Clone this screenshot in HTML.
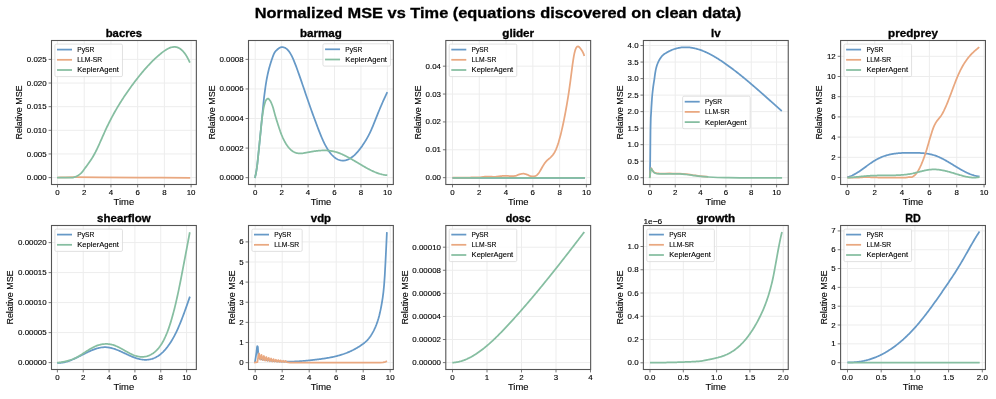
<!DOCTYPE html><html><head><meta charset="utf-8"><title>Normalized MSE vs Time</title><style>html,body{margin:0;padding:0;background:#fff;overflow:hidden}svg{display:block;will-change:transform}text{font-family:"Liberation Sans",sans-serif;stroke:#000;stroke-width:0.12px}text[font-weight=bold]{stroke-width:0.3px}</style></head><body>
<svg width="996" height="399" viewBox="0 0 996 399">
<rect width="996" height="399" fill="#fff"/>
<text x="498.00" y="18.40" font-size="14.66" text-anchor="middle" font-weight="bold" textLength="486.61" lengthAdjust="spacingAndGlyphs">Normalized MSE vs Time (equations discovered on clean data)</text>
<clipPath id="c1"><rect x="51.5" y="40.5" width="144.85" height="144.00"/></clipPath>
<path d="M57.50,40.5 V184.5 M84.22,40.5 V184.5 M110.94,40.5 V184.5 M137.66,40.5 V184.5 M164.38,40.5 V184.5 M191.10,40.5 V184.5 M51.5,177.60 H196.35 M51.5,153.96 H196.35 M51.5,130.32 H196.35 M51.5,106.68 H196.35 M51.5,83.04 H196.35 M51.5,59.40 H196.35" stroke="#ededed" stroke-width="1.0" fill="none"/>
<g clip-path="url(#c1)" fill="none" stroke-width="1.75" stroke-linejoin="round" stroke-linecap="butt">
<path d="M57.60,177.50 C60.50,177.45 67.93,177.22 75.00,177.20 C82.07,177.18 89.17,177.33 100.00,177.40 C110.83,177.47 124.97,177.53 140.00,177.60 C155.03,177.67 181.83,177.77 190.20,177.80" stroke="#e9a880"/>
<path d="M57.00,177.70 L57.30,177.70 L57.60,177.70 L57.89,177.70 L58.19,177.70 L58.49,177.70 L58.79,177.70 L59.08,177.70 L59.38,177.70 L59.68,177.70 L59.98,177.70 L60.27,177.70 L60.57,177.70 L60.87,177.70 L61.17,177.70 L61.46,177.70 L61.76,177.70 L62.06,177.70 L62.36,177.70 L62.66,177.70 L62.95,177.70 L63.25,177.70 L63.55,177.70 L63.85,177.70 L64.14,177.70 L64.44,177.70 L64.74,177.70 L65.04,177.70 L65.33,177.70 L65.63,177.70 L65.93,177.70 L66.23,177.70 L66.52,177.70 L66.82,177.70 L67.12,177.70 L67.42,177.70 L67.72,177.70 L68.01,177.70 L68.31,177.70 L68.61,177.70 L68.91,177.70 L69.20,177.70 L69.50,177.70 L69.80,177.70 L70.10,177.70 L70.39,177.70 L70.69,177.70 L70.99,177.70 L71.29,177.70 L71.58,177.70 L71.88,177.70 L72.18,177.70 L72.48,177.68 L72.78,177.63 L73.07,177.57 L73.37,177.49 L73.67,177.39 L73.97,177.29 L74.26,177.19 L74.56,177.08 L74.86,176.98 L75.16,176.87 L75.45,176.76 L75.75,176.64 L76.05,176.50 L76.35,176.37 L76.64,176.22 L76.94,176.07 L77.24,175.91 L77.54,175.74 L77.84,175.57 L78.13,175.39 L78.43,175.21 L78.73,175.02 L79.03,174.82 L79.32,174.60 L79.62,174.38 L79.92,174.14 L80.22,173.89 L80.51,173.63 L80.81,173.37 L81.11,173.09 L81.41,172.80 L81.70,172.51 L82.00,172.21 L82.30,171.90 L83.00,170.92 L83.70,169.96 L84.40,169.02 L85.09,168.08 L85.79,167.14 L86.49,166.20 L87.19,165.26 L87.89,164.30 L88.59,163.33 L89.29,162.35 L89.99,161.34 L90.68,160.30 L91.38,159.23 L92.08,158.12 L92.78,156.97 L93.48,155.78 L94.18,154.53 L94.88,153.23 L95.58,151.89 L96.27,150.49 L96.97,149.06 L97.67,147.58 L98.37,146.08 L99.07,144.55 L99.77,143.00 L100.47,141.44 L101.16,139.86 L101.86,138.28 L102.56,136.70 L103.26,135.12 L103.96,133.55 L104.66,132.00 L105.36,130.46 L106.06,128.95 L106.75,127.46 L107.45,126.00 L108.15,124.55 L108.85,123.14 L109.55,121.74 L110.25,120.36 L110.95,119.01 L111.65,117.67 L112.34,116.36 L113.04,115.07 L113.74,113.79 L114.44,112.53 L115.14,111.29 L115.84,110.07 L116.54,108.87 L117.24,107.68 L117.93,106.50 L118.63,105.35 L119.33,104.20 L120.03,103.08 L120.73,101.96 L121.43,100.86 L122.13,99.77 L122.82,98.69 L123.52,97.63 L124.22,96.58 L124.92,95.53 L125.62,94.50 L126.32,93.48 L127.02,92.46 L127.72,91.46 L128.41,90.46 L129.11,89.47 L129.81,88.49 L130.51,87.52 L131.21,86.55 L131.91,85.59 L132.61,84.64 L133.31,83.69 L134.00,82.75 L134.70,81.82 L135.40,80.90 L136.10,79.99 L136.80,79.09 L137.50,78.19 L138.20,77.30 L138.89,76.42 L139.59,75.55 L140.29,74.68 L140.99,73.83 L141.69,72.98 L142.39,72.15 L143.09,71.32 L143.79,70.50 L144.48,69.69 L145.18,68.89 L145.88,68.10 L146.58,67.32 L147.28,66.55 L147.98,65.78 L148.68,65.03 L149.38,64.29 L150.07,63.55 L150.77,62.83 L151.47,62.12 L152.17,61.41 L152.87,60.72 L153.57,60.04 L154.27,59.36 L154.96,58.70 L155.66,58.05 L156.36,57.41 L157.06,56.78 L157.76,56.16 L158.46,55.55 L159.16,54.96 L159.86,54.37 L160.55,53.80 L161.25,53.23 L161.95,52.68 L162.65,52.14 L163.35,51.62 L164.05,51.12 L164.75,50.63 L165.45,50.16 L166.14,49.72 L166.84,49.30 L167.54,48.91 L168.24,48.55 L168.94,48.22 L169.64,47.93 L170.34,47.66 L171.04,47.44 L171.73,47.25 L172.43,47.11 L173.13,47.01 L173.83,46.95 L174.53,46.94 L175.23,46.98 L175.93,47.07 L176.62,47.21 L177.32,47.41 L178.02,47.66 L178.72,47.98 L179.42,48.35 L180.12,48.79 L180.82,49.29 L181.52,49.86 L182.21,50.49 L182.91,51.20 L183.61,51.98 L184.31,52.84 L185.01,53.77 L185.71,54.78 L186.41,55.87 L187.11,57.04 L187.80,58.30 L188.50,59.64 L189.20,61.08 L189.90,62.60" stroke="#86bea1"/>
</g>
<rect x="54.90" y="44.10" width="67.58" height="32.5" rx="1.4" fill="#fff" fill-opacity="0.8" stroke="#d9d9d9" stroke-width="0.8"/>
<path d="M57.00,49.60 h15.0" stroke="#6699c7" stroke-width="1.75"/>
<text x="77.30" y="52.00" font-size="7.33" textLength="17.02" lengthAdjust="spacingAndGlyphs">PySR</text>
<path d="M57.00,59.80 h15.0" stroke="#e9a880" stroke-width="1.75"/>
<text x="77.30" y="62.20" font-size="7.33" textLength="24.73" lengthAdjust="spacingAndGlyphs">LLM-SR</text>
<path d="M57.00,70.00 h15.0" stroke="#86bea1" stroke-width="1.75"/>
<text x="77.30" y="72.40" font-size="7.33" textLength="41.61" lengthAdjust="spacingAndGlyphs">KeplerAgent</text>
<rect x="51.5" y="40.5" width="144.85" height="144.00" fill="none" stroke="#555555" stroke-width="1.1"/>
<path d="M57.50,184.5 v2.9 M84.22,184.5 v2.9 M110.94,184.5 v2.9 M137.66,184.5 v2.9 M164.38,184.5 v2.9 M191.10,184.5 v2.9 M51.5,177.60 h-2.9 M51.5,153.96 h-2.9 M51.5,130.32 h-2.9 M51.5,106.68 h-2.9 M51.5,83.04 h-2.9 M51.5,59.40 h-2.9" stroke="#555" stroke-width="0.8"/>
<text x="57.50" y="194.50" font-size="7.22" text-anchor="middle" textLength="4.40" lengthAdjust="spacingAndGlyphs">0</text>
<text x="84.22" y="194.50" font-size="7.22" text-anchor="middle" textLength="4.40" lengthAdjust="spacingAndGlyphs">2</text>
<text x="110.94" y="194.50" font-size="7.22" text-anchor="middle" textLength="4.40" lengthAdjust="spacingAndGlyphs">4</text>
<text x="137.66" y="194.50" font-size="7.22" text-anchor="middle" textLength="4.40" lengthAdjust="spacingAndGlyphs">6</text>
<text x="164.38" y="194.50" font-size="7.22" text-anchor="middle" textLength="4.40" lengthAdjust="spacingAndGlyphs">8</text>
<text x="191.10" y="194.50" font-size="7.22" text-anchor="middle" textLength="8.80" lengthAdjust="spacingAndGlyphs">10</text>
<text x="46.66" y="180.15" font-size="7.22" text-anchor="end" textLength="19.80" lengthAdjust="spacingAndGlyphs">0.000</text>
<text x="46.66" y="156.51" font-size="7.22" text-anchor="end" textLength="19.80" lengthAdjust="spacingAndGlyphs">0.005</text>
<text x="46.66" y="132.87" font-size="7.22" text-anchor="end" textLength="19.80" lengthAdjust="spacingAndGlyphs">0.010</text>
<text x="46.66" y="109.23" font-size="7.22" text-anchor="end" textLength="19.80" lengthAdjust="spacingAndGlyphs">0.015</text>
<text x="46.66" y="85.59" font-size="7.22" text-anchor="end" textLength="19.80" lengthAdjust="spacingAndGlyphs">0.020</text>
<text x="46.66" y="61.95" font-size="7.22" text-anchor="end" textLength="19.80" lengthAdjust="spacingAndGlyphs">0.025</text>
<text x="123.92" y="204.90" font-size="8.8" text-anchor="middle" textLength="20.57" lengthAdjust="spacingAndGlyphs">Time</text>
<text x="22.13" y="112.50" font-size="8.8" text-anchor="middle" textLength="54.16" lengthAdjust="spacingAndGlyphs" transform="rotate(-90 22.13 112.50)">Relative MSE</text>
<text x="123.92" y="36.70" font-size="10.26" text-anchor="middle" font-weight="bold" textLength="36.31" lengthAdjust="spacingAndGlyphs">bacres</text>
<clipPath id="c2"><rect x="248.5" y="40.5" width="144.85" height="144.00"/></clipPath>
<path d="M255.20,40.5 V184.5 M281.64,40.5 V184.5 M308.08,40.5 V184.5 M334.52,40.5 V184.5 M360.96,40.5 V184.5 M387.40,40.5 V184.5 M248.5,177.65 H393.35 M248.5,148.08 H393.35 M248.5,118.51 H393.35 M248.5,88.94 H393.35 M248.5,59.37 H393.35" stroke="#ededed" stroke-width="1.0" fill="none"/>
<g clip-path="url(#c2)" fill="none" stroke-width="1.75" stroke-linejoin="round" stroke-linecap="butt">
<path d="M254.80,177.90 L255.10,176.99 L255.39,175.86 L255.69,174.53 L255.99,173.03 L256.28,171.39 L256.58,169.63 L256.88,167.73 L257.17,165.45 L257.47,162.87 L257.77,160.09 L258.06,157.19 L258.36,154.28 L258.66,151.46 L258.95,148.62 L259.25,145.72 L259.55,142.77 L259.84,139.79 L260.14,136.80 L260.44,133.82 L260.73,130.84 L261.03,127.84 L261.33,124.82 L261.62,121.80 L261.92,118.79 L262.22,115.81 L262.52,112.83 L262.81,109.77 L263.11,106.70 L263.41,103.68 L263.70,100.79 L264.00,98.09 L264.30,95.63 L264.59,93.30 L264.89,91.03 L265.19,88.85 L265.48,86.75 L265.78,84.74 L266.08,82.83 L266.37,81.03 L266.67,79.34 L266.97,77.77 L267.26,76.30 L267.56,74.88 L267.86,73.52 L268.15,72.21 L268.45,70.95 L268.75,69.74 L269.04,68.58 L269.34,67.47 L269.64,66.40 L269.93,65.37 L270.23,64.39 L270.53,63.44 L270.82,62.53 L271.12,61.63 L271.42,60.74 L271.71,59.85 L272.01,58.97 L272.31,58.10 L272.60,57.26 L272.90,56.45 L273.20,55.67 L273.49,54.92 L273.79,54.22 L274.09,53.57 L274.38,52.97 L274.68,52.43 L274.98,51.96 L275.28,51.56 L275.57,51.23 L275.87,50.92 L276.17,50.62 L276.46,50.33 L276.76,50.04 L277.06,49.76 L277.35,49.50 L277.65,49.24 L277.95,48.99 L278.24,48.75 L278.54,48.53 L278.84,48.32 L279.13,48.12 L279.43,47.94 L279.73,47.77 L280.02,47.62 L280.32,47.49 L280.62,47.37 L280.91,47.28 L281.21,47.20 L281.51,47.15 L281.80,47.11 L282.10,47.10 L282.80,47.15 L283.49,47.27 L284.19,47.47 L284.89,47.76 L285.58,48.14 L286.28,48.61 L286.98,49.18 L287.67,49.85 L288.37,50.63 L289.07,51.51 L289.76,52.51 L290.46,53.63 L291.16,54.86 L291.85,56.21 L292.55,57.66 L293.25,59.21 L293.94,60.84 L294.64,62.55 L295.34,64.33 L296.03,66.16 L296.73,68.05 L297.43,69.97 L298.12,71.92 L298.82,73.89 L299.52,75.87 L300.21,77.87 L300.91,79.89 L301.61,81.91 L302.30,83.94 L303.00,85.98 L303.70,88.02 L304.39,90.07 L305.09,92.12 L305.79,94.16 L306.48,96.20 L307.18,98.24 L307.88,100.27 L308.57,102.29 L309.27,104.29 L309.97,106.29 L310.66,108.27 L311.36,110.23 L312.06,112.17 L312.75,114.09 L313.45,116.00 L314.15,117.90 L314.84,119.78 L315.54,121.66 L316.24,123.53 L316.93,125.39 L317.63,127.25 L318.33,129.08 L319.02,130.90 L319.72,132.68 L320.42,134.43 L321.11,136.13 L321.81,137.77 L322.51,139.36 L323.20,140.90 L323.90,142.37 L324.60,143.79 L325.29,145.14 L325.99,146.43 L326.69,147.66 L327.38,148.82 L328.08,149.91 L328.78,150.95 L329.47,151.92 L330.17,152.84 L330.87,153.70 L331.56,154.50 L332.26,155.25 L332.96,155.95 L333.65,156.59 L334.35,157.19 L335.05,157.73 L335.75,158.23 L336.44,158.68 L337.14,159.08 L337.84,159.43 L338.53,159.74 L339.23,160.00 L339.93,160.21 L340.62,160.38 L341.32,160.50 L342.02,160.58 L342.71,160.62 L343.41,160.61 L344.11,160.56 L344.80,160.47 L345.50,160.34 L346.20,160.16 L346.89,159.95 L347.59,159.69 L348.29,159.40 L348.98,159.06 L349.68,158.69 L350.38,158.28 L351.07,157.83 L351.77,157.34 L352.47,156.81 L353.16,156.25 L353.86,155.66 L354.56,155.03 L355.25,154.36 L355.95,153.66 L356.65,152.92 L357.34,152.16 L358.04,151.35 L358.74,150.52 L359.43,149.66 L360.13,148.76 L360.83,147.83 L361.52,146.87 L362.22,145.89 L362.92,144.87 L363.61,143.82 L364.31,142.75 L365.01,141.64 L365.70,140.51 L366.40,139.33 L367.10,138.12 L367.79,136.87 L368.49,135.56 L369.19,134.21 L369.88,132.80 L370.58,131.34 L371.28,129.81 L371.97,128.22 L372.67,126.58 L373.37,124.90 L374.06,123.18 L374.76,121.43 L375.46,119.68 L376.15,117.91 L376.85,116.15 L377.55,114.41 L378.24,112.68 L378.94,110.98 L379.64,109.29 L380.33,107.63 L381.03,105.99 L381.73,104.37 L382.42,102.76 L383.12,101.18 L383.82,99.61 L384.51,98.06 L385.21,96.53 L385.91,95.01 L386.60,93.51 L387.30,92.03" stroke="#6699c7"/>
<path d="M254.80,177.90 L255.10,176.98 L255.40,175.84 L255.70,174.50 L256.00,172.98 L256.29,171.33 L256.59,169.56 L256.89,167.62 L257.19,165.31 L257.49,162.70 L257.79,159.89 L258.09,156.97 L258.39,154.04 L258.68,151.20 L258.98,148.32 L259.28,145.35 L259.58,142.35 L259.88,139.33 L260.18,136.34 L260.48,133.42 L260.78,130.47 L261.08,127.45 L261.37,124.44 L261.67,121.54 L261.97,118.87 L262.27,116.51 L262.57,114.43 L262.87,112.46 L263.17,110.62 L263.47,108.93 L263.76,107.40 L264.06,106.05 L264.36,104.88 L264.66,103.76 L264.96,102.72 L265.26,101.79 L265.56,101.01 L265.86,100.41 L266.16,100.00 L266.45,99.65 L266.75,99.32 L267.05,99.04 L267.35,98.82 L267.65,98.67 L267.95,98.60 L268.25,98.64 L268.55,98.80 L268.84,99.05 L269.14,99.38 L269.44,99.76 L269.74,100.18 L270.04,100.62 L270.34,101.06 L270.64,101.54 L270.94,102.12 L271.24,102.76 L271.53,103.47 L271.83,104.22 L272.13,105.00 L272.43,105.81 L272.73,106.65 L273.03,107.59 L273.33,108.59 L273.63,109.65 L273.92,110.75 L274.22,111.87 L274.52,112.99 L274.82,114.11 L275.12,115.19 L275.42,116.23 L275.72,117.22 L276.02,118.20 L276.32,119.18 L276.61,120.15 L276.91,121.12 L277.21,122.07 L277.51,123.02 L277.81,123.97 L278.11,124.90 L278.41,125.83 L278.71,126.75 L279.00,127.66 L279.30,128.56 L279.60,129.45 L279.90,130.33 L280.20,131.20 L280.90,133.08 L281.59,134.85 L282.29,136.51 L282.98,138.09 L283.68,139.56 L284.37,140.94 L285.07,142.23 L285.76,143.44 L286.46,144.55 L287.15,145.59 L287.85,146.55 L288.55,147.43 L289.24,148.24 L289.94,148.97 L290.63,149.64 L291.33,150.24 L292.02,150.79 L292.72,151.27 L293.41,151.69 L294.11,152.06 L294.80,152.38 L295.50,152.64 L296.20,152.87 L296.89,153.05 L297.59,153.19 L298.28,153.29 L298.98,153.35 L299.67,153.39 L300.37,153.39 L301.06,153.37 L301.76,153.33 L302.45,153.26 L303.15,153.18 L303.85,153.08 L304.54,152.96 L305.24,152.84 L305.93,152.71 L306.63,152.58 L307.32,152.44 L308.02,152.31 L308.71,152.17 L309.41,152.04 L310.10,151.92 L310.80,151.79 L311.50,151.67 L312.19,151.55 L312.89,151.44 L313.58,151.33 L314.28,151.23 L314.97,151.13 L315.67,151.03 L316.36,150.94 L317.06,150.86 L317.75,150.78 L318.45,150.71 L319.15,150.65 L319.84,150.59 L320.54,150.54 L321.23,150.50 L321.93,150.47 L322.62,150.45 L323.32,150.43 L324.01,150.42 L324.71,150.43 L325.40,150.44 L326.10,150.46 L326.80,150.49 L327.49,150.54 L328.19,150.59 L328.88,150.66 L329.58,150.73 L330.27,150.82 L330.97,150.92 L331.66,151.04 L332.36,151.16 L333.05,151.30 L333.75,151.46 L334.45,151.62 L335.14,151.81 L335.84,152.00 L336.53,152.21 L337.23,152.43 L337.92,152.66 L338.62,152.91 L339.31,153.17 L340.01,153.44 L340.70,153.72 L341.40,154.01 L342.10,154.31 L342.79,154.62 L343.49,154.94 L344.18,155.27 L344.88,155.60 L345.57,155.95 L346.27,156.30 L346.96,156.66 L347.66,157.03 L348.35,157.40 L349.05,157.78 L349.75,158.16 L350.44,158.55 L351.14,158.94 L351.83,159.34 L352.53,159.74 L353.22,160.15 L353.92,160.55 L354.61,160.96 L355.31,161.37 L356.00,161.79 L356.70,162.20 L357.40,162.62 L358.09,163.03 L358.79,163.45 L359.48,163.86 L360.18,164.28 L360.87,164.69 L361.57,165.10 L362.26,165.51 L362.96,165.92 L363.65,166.32 L364.35,166.72 L365.05,167.12 L365.74,167.51 L366.44,167.90 L367.13,168.28 L367.83,168.65 L368.52,169.02 L369.22,169.39 L369.91,169.74 L370.61,170.09 L371.30,170.44 L372.00,170.77 L372.70,171.10 L373.39,171.41 L374.09,171.72 L374.78,172.02 L375.48,172.30 L376.17,172.58 L376.87,172.85 L377.56,173.10 L378.26,173.34 L378.95,173.57 L379.65,173.79 L380.35,173.99 L381.04,174.18 L381.74,174.36 L382.43,174.52 L383.13,174.67 L383.82,174.80 L384.52,174.92 L385.21,175.02 L385.91,175.10 L386.60,175.17 L387.30,175.22" stroke="#86bea1"/>
</g>
<rect x="322.95" y="43.80" width="67.58" height="22.3" rx="1.4" fill="#fff" fill-opacity="0.8" stroke="#d9d9d9" stroke-width="0.8"/>
<path d="M325.05,49.30 h15.0" stroke="#6699c7" stroke-width="1.75"/>
<text x="345.35" y="51.70" font-size="7.33" textLength="17.02" lengthAdjust="spacingAndGlyphs">PySR</text>
<path d="M325.05,59.50 h15.0" stroke="#86bea1" stroke-width="1.75"/>
<text x="345.35" y="61.90" font-size="7.33" textLength="41.61" lengthAdjust="spacingAndGlyphs">KeplerAgent</text>
<rect x="248.5" y="40.5" width="144.85" height="144.00" fill="none" stroke="#555555" stroke-width="1.1"/>
<path d="M255.20,184.5 v2.9 M281.64,184.5 v2.9 M308.08,184.5 v2.9 M334.52,184.5 v2.9 M360.96,184.5 v2.9 M387.40,184.5 v2.9 M248.5,177.65 h-2.9 M248.5,148.08 h-2.9 M248.5,118.51 h-2.9 M248.5,88.94 h-2.9 M248.5,59.37 h-2.9" stroke="#555" stroke-width="0.8"/>
<text x="255.20" y="194.50" font-size="7.22" text-anchor="middle" textLength="4.40" lengthAdjust="spacingAndGlyphs">0</text>
<text x="281.64" y="194.50" font-size="7.22" text-anchor="middle" textLength="4.40" lengthAdjust="spacingAndGlyphs">2</text>
<text x="308.08" y="194.50" font-size="7.22" text-anchor="middle" textLength="4.40" lengthAdjust="spacingAndGlyphs">4</text>
<text x="334.52" y="194.50" font-size="7.22" text-anchor="middle" textLength="4.40" lengthAdjust="spacingAndGlyphs">6</text>
<text x="360.96" y="194.50" font-size="7.22" text-anchor="middle" textLength="4.40" lengthAdjust="spacingAndGlyphs">8</text>
<text x="387.40" y="194.50" font-size="7.22" text-anchor="middle" textLength="8.80" lengthAdjust="spacingAndGlyphs">10</text>
<text x="243.66" y="180.20" font-size="7.22" text-anchor="end" textLength="24.20" lengthAdjust="spacingAndGlyphs">0.0000</text>
<text x="243.66" y="150.63" font-size="7.22" text-anchor="end" textLength="24.20" lengthAdjust="spacingAndGlyphs">0.0002</text>
<text x="243.66" y="121.06" font-size="7.22" text-anchor="end" textLength="24.20" lengthAdjust="spacingAndGlyphs">0.0004</text>
<text x="243.66" y="91.49" font-size="7.22" text-anchor="end" textLength="24.20" lengthAdjust="spacingAndGlyphs">0.0006</text>
<text x="243.66" y="61.92" font-size="7.22" text-anchor="end" textLength="24.20" lengthAdjust="spacingAndGlyphs">0.0008</text>
<text x="320.93" y="204.90" font-size="8.8" text-anchor="middle" textLength="20.57" lengthAdjust="spacingAndGlyphs">Time</text>
<text x="214.73" y="112.50" font-size="8.8" text-anchor="middle" textLength="54.16" lengthAdjust="spacingAndGlyphs" transform="rotate(-90 214.73 112.50)">Relative MSE</text>
<text x="320.93" y="36.70" font-size="10.26" text-anchor="middle" font-weight="bold" textLength="41.80" lengthAdjust="spacingAndGlyphs">barmag</text>
<clipPath id="c3"><rect x="445.8" y="40.5" width="144.85" height="144.00"/></clipPath>
<path d="M452.50,40.5 V184.5 M479.28,40.5 V184.5 M506.06,40.5 V184.5 M532.84,40.5 V184.5 M559.62,40.5 V184.5 M586.40,40.5 V184.5 M445.8,177.65 H590.65 M445.8,149.78 H590.65 M445.8,121.91 H590.65 M445.8,94.04 H590.65 M445.8,66.17 H590.65" stroke="#ededed" stroke-width="1.0" fill="none"/>
<g clip-path="url(#c3)" fill="none" stroke-width="1.75" stroke-linejoin="round" stroke-linecap="butt">
<path d="M452.50,177.95 L585.00,177.95" stroke="#6699c7"/>
<path d="M452.50,177.60 L452.80,177.60 L453.10,177.60 L453.40,177.60 L453.70,177.60 L453.99,177.60 L454.29,177.60 L454.59,177.60 L454.89,177.60 L455.19,177.60 L455.49,177.60 L455.79,177.60 L456.09,177.59 L456.39,177.59 L456.69,177.59 L456.98,177.59 L457.28,177.59 L457.58,177.59 L457.88,177.59 L458.18,177.59 L458.48,177.59 L458.78,177.58 L459.08,177.58 L459.38,177.58 L459.67,177.58 L459.97,177.58 L460.27,177.58 L460.57,177.57 L460.87,177.57 L461.17,177.57 L461.47,177.57 L461.77,177.57 L462.07,177.57 L462.36,177.56 L462.66,177.56 L462.96,177.56 L463.26,177.56 L463.56,177.55 L463.86,177.55 L464.16,177.55 L464.46,177.55 L464.76,177.55 L465.06,177.54 L465.35,177.54 L465.65,177.54 L465.95,177.54 L466.25,177.53 L466.55,177.53 L466.85,177.53 L467.15,177.53 L467.45,177.52 L467.75,177.52 L468.04,177.52 L468.34,177.52 L468.64,177.51 L468.94,177.51 L469.24,177.51 L469.54,177.50 L469.84,177.50 L470.14,177.50 L470.44,177.50 L470.73,177.49 L471.03,177.49 L471.33,177.49 L471.63,177.48 L471.93,177.48 L472.23,177.48 L472.53,177.47 L472.83,177.47 L473.13,177.46 L473.43,177.46 L473.72,177.46 L474.02,177.45 L474.32,177.45 L474.62,177.44 L474.92,177.44 L475.22,177.43 L475.52,177.42 L475.82,177.42 L476.12,177.41 L476.41,177.41 L476.71,177.40 L477.01,177.39 L477.31,177.38 L477.61,177.38 L477.91,177.37 L478.21,177.36 L478.51,177.35 L478.81,177.34 L479.10,177.33 L479.40,177.32 L479.70,177.31 L480.00,177.30 L480.30,177.28 L480.60,177.26 L480.90,177.23 L481.20,177.20 L481.50,177.16 L481.80,177.12 L482.09,177.08 L482.39,177.03 L482.69,176.98 L482.99,176.94 L483.29,176.89 L483.59,176.85 L483.89,176.81 L484.19,176.77 L484.49,176.74 L484.78,176.71 L485.08,176.70 L485.38,176.68 L485.68,176.66 L485.98,176.64 L486.28,176.62 L486.58,176.61 L486.88,176.59 L487.18,176.58 L487.47,176.56 L487.77,176.55 L488.07,176.54 L488.37,176.53 L488.67,176.52 L488.97,176.51 L489.27,176.51 L489.57,176.50 L489.87,176.50 L490.17,176.50 L490.46,176.51 L490.76,176.54 L491.06,176.57 L491.36,176.61 L491.66,176.65 L491.96,176.69 L492.26,176.74 L492.56,176.78 L492.86,176.82 L493.15,176.85 L493.45,176.88 L493.75,176.90 L494.05,176.90 L494.35,176.89 L494.65,176.88 L494.95,176.86 L495.25,176.83 L495.55,176.79 L495.84,176.76 L496.14,176.71 L496.44,176.67 L496.74,176.62 L497.04,176.57 L497.34,176.52 L497.64,176.48 L497.94,176.43 L498.24,176.39 L498.54,176.35 L498.83,176.32 L499.13,176.29 L499.43,176.26 L499.73,176.23 L500.03,176.20 L500.33,176.17 L500.63,176.14 L500.93,176.10 L501.23,176.07 L501.52,176.04 L501.82,176.01 L502.12,175.98 L502.42,175.96 L502.72,175.93 L503.02,175.91 L503.32,175.89 L503.62,175.86 L503.92,175.85 L504.21,175.83 L504.51,175.82 L504.81,175.81 L505.11,175.80 L505.41,175.80 L505.71,175.80 L506.01,175.81 L506.31,175.82 L506.61,175.83 L506.91,175.85 L507.20,175.87 L507.50,175.89 L507.80,175.92 L508.10,175.94 L508.40,175.97 L508.70,176.00 L509.00,176.03 L509.30,176.06 L509.60,176.08 L509.89,176.11 L510.19,176.13 L510.49,176.15 L510.79,176.17 L511.09,176.18 L511.39,176.19 L511.69,176.20 L511.99,176.20 L512.29,176.19 L512.58,176.18 L512.88,176.17 L513.18,176.14 L513.48,176.11 L513.78,176.08 L514.08,176.05 L514.38,176.01 L514.68,175.96 L514.98,175.92 L515.28,175.87 L515.57,175.82 L515.87,175.77 L516.17,175.68 L516.47,175.58 L516.77,175.46 L517.07,175.32 L517.37,175.18 L517.67,175.03 L517.97,174.89 L518.26,174.76 L518.56,174.64 L518.86,174.54 L519.16,174.46 L519.46,174.38 L519.76,174.30 L520.06,174.22 L520.36,174.15 L520.66,174.07 L520.95,174.01 L521.25,173.94 L521.55,173.88 L521.85,173.83 L522.15,173.78 L522.45,173.75 L522.75,173.72 L523.05,173.70 L523.35,173.70 L523.64,173.71 L523.94,173.74 L524.24,173.78 L524.54,173.84 L524.84,173.91 L525.14,173.99 L525.44,174.07 L525.74,174.16 L526.04,174.26 L526.34,174.35 L526.63,174.45 L526.93,174.55 L527.23,174.64 L527.53,174.76 L527.83,174.90 L528.13,175.05 L528.43,175.21 L528.73,175.37 L529.03,175.53 L529.32,175.68 L529.62,175.82 L529.92,175.94 L530.22,176.04 L530.52,176.10 L530.82,176.15 L531.12,176.20 L531.42,176.25 L531.72,176.29 L532.02,176.32 L532.31,176.35 L532.61,176.38 L532.91,176.39 L533.21,176.40 L533.51,176.39 L533.81,176.37 L534.11,176.32 L534.41,176.26 L534.71,176.18 L535.00,176.09 L535.30,175.98 L535.60,175.87 L535.90,175.74 L536.20,175.60 L536.90,175.15 L537.59,174.49 L538.29,173.67 L538.99,172.71 L539.69,171.64 L540.38,170.48 L541.08,169.27 L541.78,168.03 L542.47,166.79 L543.17,165.59 L543.87,164.44 L544.57,163.38 L545.26,162.44 L545.96,161.60 L546.66,160.86 L547.35,160.19 L548.05,159.56 L548.75,158.97 L549.44,158.39 L550.14,157.79 L550.84,157.16 L551.54,156.47 L552.23,155.71 L552.93,154.85 L553.63,153.88 L554.32,152.76 L555.02,151.49 L555.72,150.04 L556.42,148.41 L557.11,146.60 L557.81,144.61 L558.51,142.44 L559.20,140.10 L559.90,137.60 L560.60,134.94 L561.30,132.12 L561.99,129.14 L562.69,126.02 L563.39,122.74 L564.08,119.33 L564.78,115.77 L565.48,112.08 L566.18,108.26 L566.87,104.30 L567.57,100.17 L568.27,95.84 L568.96,91.28 L569.66,86.46 L570.36,81.35 L571.06,75.97 L571.75,70.52 L572.45,65.23 L573.15,60.34 L573.84,56.08 L574.54,52.66 L575.24,50.09 L575.93,48.27 L576.63,47.11 L577.33,46.53 L578.03,46.42 L578.72,46.71 L579.42,47.29 L580.12,48.09 L580.81,49.00 L581.51,49.96 L582.21,51.02 L582.91,52.30 L583.60,53.90 L584.30,55.92" stroke="#e9a880"/>
<path d="M452.50,177.75 L585.00,177.75" stroke="#86bea1"/>
</g>
<rect x="449.20" y="44.10" width="67.58" height="32.5" rx="1.4" fill="#fff" fill-opacity="0.8" stroke="#d9d9d9" stroke-width="0.8"/>
<path d="M451.30,49.60 h15.0" stroke="#6699c7" stroke-width="1.75"/>
<text x="471.60" y="52.00" font-size="7.33" textLength="17.02" lengthAdjust="spacingAndGlyphs">PySR</text>
<path d="M451.30,59.80 h15.0" stroke="#e9a880" stroke-width="1.75"/>
<text x="471.60" y="62.20" font-size="7.33" textLength="24.73" lengthAdjust="spacingAndGlyphs">LLM-SR</text>
<path d="M451.30,70.00 h15.0" stroke="#86bea1" stroke-width="1.75"/>
<text x="471.60" y="72.40" font-size="7.33" textLength="41.61" lengthAdjust="spacingAndGlyphs">KeplerAgent</text>
<rect x="445.8" y="40.5" width="144.85" height="144.00" fill="none" stroke="#555555" stroke-width="1.1"/>
<path d="M452.50,184.5 v2.9 M479.28,184.5 v2.9 M506.06,184.5 v2.9 M532.84,184.5 v2.9 M559.62,184.5 v2.9 M586.40,184.5 v2.9 M445.8,177.65 h-2.9 M445.8,149.78 h-2.9 M445.8,121.91 h-2.9 M445.8,94.04 h-2.9 M445.8,66.17 h-2.9" stroke="#555" stroke-width="0.8"/>
<text x="452.50" y="194.50" font-size="7.22" text-anchor="middle" textLength="4.40" lengthAdjust="spacingAndGlyphs">0</text>
<text x="479.28" y="194.50" font-size="7.22" text-anchor="middle" textLength="4.40" lengthAdjust="spacingAndGlyphs">2</text>
<text x="506.06" y="194.50" font-size="7.22" text-anchor="middle" textLength="4.40" lengthAdjust="spacingAndGlyphs">4</text>
<text x="532.84" y="194.50" font-size="7.22" text-anchor="middle" textLength="4.40" lengthAdjust="spacingAndGlyphs">6</text>
<text x="559.62" y="194.50" font-size="7.22" text-anchor="middle" textLength="4.40" lengthAdjust="spacingAndGlyphs">8</text>
<text x="586.40" y="194.50" font-size="7.22" text-anchor="middle" textLength="8.80" lengthAdjust="spacingAndGlyphs">10</text>
<text x="440.96" y="180.20" font-size="7.22" text-anchor="end" textLength="15.40" lengthAdjust="spacingAndGlyphs">0.00</text>
<text x="440.96" y="152.33" font-size="7.22" text-anchor="end" textLength="15.40" lengthAdjust="spacingAndGlyphs">0.01</text>
<text x="440.96" y="124.46" font-size="7.22" text-anchor="end" textLength="15.40" lengthAdjust="spacingAndGlyphs">0.02</text>
<text x="440.96" y="96.59" font-size="7.22" text-anchor="end" textLength="15.40" lengthAdjust="spacingAndGlyphs">0.03</text>
<text x="440.96" y="68.72" font-size="7.22" text-anchor="end" textLength="15.40" lengthAdjust="spacingAndGlyphs">0.04</text>
<text x="518.23" y="204.90" font-size="8.8" text-anchor="middle" textLength="20.57" lengthAdjust="spacingAndGlyphs">Time</text>
<text x="420.83" y="112.50" font-size="8.8" text-anchor="middle" textLength="54.16" lengthAdjust="spacingAndGlyphs" transform="rotate(-90 420.83 112.50)">Relative MSE</text>
<text x="518.23" y="36.70" font-size="10.26" text-anchor="middle" font-weight="bold" textLength="31.85" lengthAdjust="spacingAndGlyphs">glider</text>
<clipPath id="c4"><rect x="643.4" y="40.5" width="144.85" height="144.00"/></clipPath>
<path d="M649.90,40.5 V184.5 M675.24,40.5 V184.5 M700.58,40.5 V184.5 M725.92,40.5 V184.5 M751.26,40.5 V184.5 M776.60,40.5 V184.5 M643.4,177.70 H788.25 M643.4,161.18 H788.25 M643.4,144.66 H788.25 M643.4,128.14 H788.25 M643.4,111.62 H788.25 M643.4,95.10 H788.25 M643.4,78.58 H788.25 M643.4,62.06 H788.25 M643.4,45.54 H788.25" stroke="#ededed" stroke-width="1.0" fill="none"/>
<g clip-path="url(#c4)" fill="none" stroke-width="1.75" stroke-linejoin="round" stroke-linecap="butt">
<path d="M649.90,177.00 L650.20,160.16 L650.50,129.92 L650.79,117.65 L651.09,112.95 L651.39,107.64 L651.69,102.86 L651.98,98.55 L652.28,95.03 L652.58,91.99 L652.88,89.31 L653.18,86.94 L653.47,84.84 L653.77,82.91 L654.07,81.02 L654.37,79.04 L654.66,76.90 L654.96,74.71 L655.26,72.63 L655.56,70.82 L655.86,69.39 L656.15,68.14 L656.45,67.01 L656.75,66.00 L657.05,65.08 L657.34,64.25 L657.64,63.48 L657.94,62.76 L658.24,62.08 L658.54,61.45 L658.83,60.85 L659.13,60.29 L659.43,59.77 L659.73,59.27 L660.02,58.81 L660.32,58.35 L660.62,57.91 L660.92,57.48 L661.22,57.07 L661.51,56.68 L661.81,56.30 L662.11,55.95 L662.41,55.62 L662.70,55.32 L663.00,55.05 L663.30,54.80 L664.00,54.31 L664.69,53.84 L665.39,53.38 L666.09,52.94 L666.79,52.52 L667.48,52.12 L668.18,51.74 L668.88,51.37 L669.57,51.02 L670.27,50.68 L670.97,50.37 L671.66,50.07 L672.36,49.78 L673.06,49.51 L673.76,49.26 L674.45,49.02 L675.15,48.80 L675.85,48.60 L676.54,48.41 L677.24,48.23 L677.94,48.07 L678.64,47.93 L679.33,47.80 L680.03,47.68 L680.73,47.58 L681.42,47.49 L682.12,47.42 L682.82,47.36 L683.51,47.31 L684.21,47.28 L684.91,47.26 L685.61,47.26 L686.30,47.26 L687.00,47.28 L687.70,47.32 L688.39,47.36 L689.09,47.42 L689.79,47.49 L690.49,47.58 L691.18,47.67 L691.88,47.78 L692.58,47.90 L693.27,48.03 L693.97,48.17 L694.67,48.32 L695.36,48.48 L696.06,48.66 L696.76,48.84 L697.46,49.04 L698.15,49.24 L698.85,49.46 L699.55,49.69 L700.24,49.92 L700.94,50.17 L701.64,50.43 L702.34,50.69 L703.03,50.96 L703.73,51.25 L704.43,51.54 L705.12,51.84 L705.82,52.15 L706.52,52.47 L707.21,52.80 L707.91,53.13 L708.61,53.47 L709.31,53.82 L710.00,54.18 L710.70,54.55 L711.40,54.92 L712.09,55.30 L712.79,55.69 L713.49,56.08 L714.19,56.48 L714.88,56.89 L715.58,57.31 L716.28,57.73 L716.97,58.15 L717.67,58.59 L718.37,59.02 L719.06,59.47 L719.76,59.92 L720.46,60.37 L721.16,60.83 L721.85,61.29 L722.55,61.76 L723.25,62.24 L723.94,62.72 L724.64,63.20 L725.34,63.68 L726.04,64.18 L726.73,64.67 L727.43,65.17 L728.13,65.67 L728.82,66.18 L729.52,66.69 L730.22,67.20 L730.91,67.72 L731.61,68.24 L732.31,68.76 L733.01,69.29 L733.70,69.82 L734.40,70.35 L735.10,70.89 L735.79,71.43 L736.49,71.97 L737.19,72.51 L737.89,73.06 L738.58,73.62 L739.28,74.17 L739.98,74.73 L740.67,75.29 L741.37,75.85 L742.07,76.41 L742.76,76.98 L743.46,77.55 L744.16,78.12 L744.86,78.70 L745.55,79.28 L746.25,79.86 L746.95,80.44 L747.64,81.02 L748.34,81.61 L749.04,82.19 L749.74,82.78 L750.43,83.38 L751.13,83.97 L751.83,84.56 L752.52,85.16 L753.22,85.76 L753.92,86.36 L754.61,86.96 L755.31,87.57 L756.01,88.17 L756.71,88.78 L757.40,89.38 L758.10,89.99 L758.80,90.60 L759.49,91.21 L760.19,91.83 L760.89,92.44 L761.59,93.05 L762.28,93.67 L762.98,94.28 L763.68,94.90 L764.37,95.52 L765.07,96.14 L765.77,96.76 L766.46,97.37 L767.16,97.99 L767.86,98.61 L768.56,99.24 L769.25,99.86 L769.95,100.48 L770.65,101.10 L771.34,101.72 L772.04,102.34 L772.74,102.96 L773.44,103.59 L774.13,104.21 L774.83,104.83 L775.53,105.45 L776.22,106.07 L776.92,106.69 L777.62,107.31 L778.31,107.93 L779.01,108.55 L779.71,109.17 L780.41,109.79 L781.10,110.41 L781.80,111.02" stroke="#6699c7"/>
<path d="M649.70,177.90 C649.82,176.87 650.17,173.30 650.40,171.70 C650.63,170.10 650.80,168.60 651.10,168.30 C651.40,168.00 651.75,169.27 652.20,169.90 C652.65,170.53 653.17,171.55 653.80,172.10 C654.43,172.65 655.08,172.97 656.00,173.20 C656.92,173.43 657.80,173.45 659.30,173.50 C660.80,173.55 662.72,173.50 665.00,173.50 C667.28,173.50 670.50,173.48 673.00,173.50 C675.50,173.52 677.78,173.48 680.00,173.60 C682.22,173.72 684.22,173.97 686.30,174.20 C688.38,174.43 690.15,174.68 692.50,175.00 C694.85,175.32 697.78,175.80 700.40,176.10 C703.02,176.40 706.90,176.68 708.20,176.80" stroke="#e9a880"/>
<path d="M649.70,178.10 C649.82,177.08 650.17,173.58 650.40,172.00 C650.63,170.42 650.80,168.90 651.10,168.60 C651.40,168.30 651.75,169.57 652.20,170.20 C652.65,170.83 653.17,171.85 653.80,172.40 C654.43,172.95 655.08,173.27 656.00,173.50 C656.92,173.73 657.80,173.75 659.30,173.80 C660.80,173.85 662.72,173.80 665.00,173.80 C667.28,173.80 670.50,173.78 673.00,173.80 C675.50,173.82 677.78,173.78 680.00,173.90 C682.22,174.02 684.22,174.27 686.30,174.50 C688.38,174.73 690.15,174.98 692.50,175.30 C694.85,175.62 697.78,176.12 700.40,176.40 C703.02,176.68 705.33,176.82 708.20,177.00 C711.07,177.18 714.63,177.38 717.60,177.50 C720.57,177.62 722.27,177.65 726.00,177.70 C729.73,177.75 730.65,177.77 740.00,177.80 C749.35,177.83 775.08,177.88 782.10,177.90" stroke="#86bea1"/>
</g>
<rect x="682.60" y="96.20" width="67.58" height="32.5" rx="1.4" fill="#fff" fill-opacity="0.8" stroke="#d9d9d9" stroke-width="0.8"/>
<path d="M684.70,101.70 h15.0" stroke="#6699c7" stroke-width="1.75"/>
<text x="705.00" y="104.10" font-size="7.33" textLength="17.02" lengthAdjust="spacingAndGlyphs">PySR</text>
<path d="M684.70,111.90 h15.0" stroke="#e9a880" stroke-width="1.75"/>
<text x="705.00" y="114.30" font-size="7.33" textLength="24.73" lengthAdjust="spacingAndGlyphs">LLM-SR</text>
<path d="M684.70,122.10 h15.0" stroke="#86bea1" stroke-width="1.75"/>
<text x="705.00" y="124.50" font-size="7.33" textLength="41.61" lengthAdjust="spacingAndGlyphs">KeplerAgent</text>
<rect x="643.4" y="40.5" width="144.85" height="144.00" fill="none" stroke="#555555" stroke-width="1.1"/>
<path d="M649.90,184.5 v2.9 M675.24,184.5 v2.9 M700.58,184.5 v2.9 M725.92,184.5 v2.9 M751.26,184.5 v2.9 M776.60,184.5 v2.9 M643.4,177.70 h-2.9 M643.4,161.18 h-2.9 M643.4,144.66 h-2.9 M643.4,128.14 h-2.9 M643.4,111.62 h-2.9 M643.4,95.10 h-2.9 M643.4,78.58 h-2.9 M643.4,62.06 h-2.9 M643.4,45.54 h-2.9" stroke="#555" stroke-width="0.8"/>
<text x="649.90" y="194.50" font-size="7.22" text-anchor="middle" textLength="4.40" lengthAdjust="spacingAndGlyphs">0</text>
<text x="675.24" y="194.50" font-size="7.22" text-anchor="middle" textLength="4.40" lengthAdjust="spacingAndGlyphs">2</text>
<text x="700.58" y="194.50" font-size="7.22" text-anchor="middle" textLength="4.40" lengthAdjust="spacingAndGlyphs">4</text>
<text x="725.92" y="194.50" font-size="7.22" text-anchor="middle" textLength="4.40" lengthAdjust="spacingAndGlyphs">6</text>
<text x="751.26" y="194.50" font-size="7.22" text-anchor="middle" textLength="4.40" lengthAdjust="spacingAndGlyphs">8</text>
<text x="776.60" y="194.50" font-size="7.22" text-anchor="middle" textLength="8.80" lengthAdjust="spacingAndGlyphs">10</text>
<text x="638.56" y="180.25" font-size="7.22" text-anchor="end" textLength="11.00" lengthAdjust="spacingAndGlyphs">0.0</text>
<text x="638.56" y="163.73" font-size="7.22" text-anchor="end" textLength="11.00" lengthAdjust="spacingAndGlyphs">0.5</text>
<text x="638.56" y="147.21" font-size="7.22" text-anchor="end" textLength="11.00" lengthAdjust="spacingAndGlyphs">1.0</text>
<text x="638.56" y="130.69" font-size="7.22" text-anchor="end" textLength="11.00" lengthAdjust="spacingAndGlyphs">1.5</text>
<text x="638.56" y="114.17" font-size="7.22" text-anchor="end" textLength="11.00" lengthAdjust="spacingAndGlyphs">2.0</text>
<text x="638.56" y="97.65" font-size="7.22" text-anchor="end" textLength="11.00" lengthAdjust="spacingAndGlyphs">2.5</text>
<text x="638.56" y="81.13" font-size="7.22" text-anchor="end" textLength="11.00" lengthAdjust="spacingAndGlyphs">3.0</text>
<text x="638.56" y="64.61" font-size="7.22" text-anchor="end" textLength="11.00" lengthAdjust="spacingAndGlyphs">3.5</text>
<text x="638.56" y="48.09" font-size="7.22" text-anchor="end" textLength="11.00" lengthAdjust="spacingAndGlyphs">4.0</text>
<text x="715.83" y="204.90" font-size="8.8" text-anchor="middle" textLength="20.57" lengthAdjust="spacingAndGlyphs">Time</text>
<text x="622.83" y="112.50" font-size="8.8" text-anchor="middle" textLength="54.16" lengthAdjust="spacingAndGlyphs" transform="rotate(-90 622.83 112.50)">Relative MSE</text>
<text x="715.83" y="36.70" font-size="10.26" text-anchor="middle" font-weight="bold" textLength="9.63" lengthAdjust="spacingAndGlyphs">lv</text>
<clipPath id="c5"><rect x="840.6" y="40.5" width="144.85" height="144.00"/></clipPath>
<path d="M847.40,40.5 V184.5 M874.73,40.5 V184.5 M902.06,40.5 V184.5 M929.39,40.5 V184.5 M956.72,40.5 V184.5 M984.05,40.5 V184.5 M840.6,177.50 H985.45 M840.6,157.30 H985.45 M840.6,137.10 H985.45 M840.6,116.90 H985.45 M840.6,96.70 H985.45 M840.6,76.50 H985.45 M840.6,56.30 H985.45" stroke="#ededed" stroke-width="1.0" fill="none"/>
<g clip-path="url(#c5)" fill="none" stroke-width="1.75" stroke-linejoin="round" stroke-linecap="butt">
<path d="M847.30,177.12 L848.00,176.95 L848.70,176.76 L849.40,176.54 L850.10,176.29 L850.80,176.03 L851.50,175.74 L852.20,175.43 L852.90,175.10 L853.60,174.76 L854.29,174.39 L854.99,174.01 L855.69,173.62 L856.39,173.20 L857.09,172.78 L857.79,172.34 L858.49,171.89 L859.19,171.42 L859.89,170.95 L860.59,170.47 L861.29,169.98 L861.99,169.48 L862.69,168.98 L863.39,168.47 L864.09,167.96 L864.79,167.45 L865.49,166.93 L866.19,166.42 L866.89,165.91 L867.58,165.40 L868.28,164.89 L868.98,164.39 L869.68,163.89 L870.38,163.40 L871.08,162.93 L871.78,162.45 L872.48,161.99 L873.18,161.54 L873.88,161.10 L874.58,160.67 L875.28,160.25 L875.98,159.85 L876.68,159.45 L877.38,159.08 L878.08,158.71 L878.78,158.36 L879.48,158.02 L880.18,157.70 L880.87,157.39 L881.57,157.09 L882.27,156.81 L882.97,156.54 L883.67,156.28 L884.37,156.03 L885.07,155.80 L885.77,155.58 L886.47,155.37 L887.17,155.16 L887.87,154.98 L888.57,154.80 L889.27,154.63 L889.97,154.47 L890.67,154.32 L891.37,154.18 L892.07,154.05 L892.77,153.92 L893.47,153.81 L894.16,153.70 L894.86,153.60 L895.56,153.51 L896.26,153.43 L896.96,153.35 L897.66,153.28 L898.36,153.22 L899.06,153.16 L899.76,153.11 L900.46,153.06 L901.16,153.02 L901.86,152.98 L902.56,152.95 L903.26,152.92 L903.96,152.90 L904.66,152.88 L905.36,152.86 L906.06,152.85 L906.76,152.84 L907.45,152.83 L908.15,152.82 L908.85,152.82 L909.55,152.82 L910.25,152.82 L910.95,152.82 L911.65,152.82 L912.35,152.82 L913.05,152.82 L913.75,152.83 L914.45,152.83 L915.15,152.84 L915.85,152.85 L916.55,152.86 L917.25,152.88 L917.95,152.90 L918.65,152.92 L919.35,152.95 L920.04,152.98 L920.74,153.01 L921.44,153.06 L922.14,153.10 L922.84,153.16 L923.54,153.22 L924.24,153.29 L924.94,153.37 L925.64,153.45 L926.34,153.54 L927.04,153.64 L927.74,153.75 L928.44,153.87 L929.14,154.00 L929.84,154.14 L930.54,154.29 L931.24,154.45 L931.94,154.62 L932.64,154.81 L933.33,155.01 L934.03,155.22 L934.73,155.44 L935.43,155.67 L936.13,155.92 L936.83,156.19 L937.53,156.46 L938.23,156.75 L938.93,157.06 L939.63,157.37 L940.33,157.70 L941.03,158.03 L941.73,158.38 L942.43,158.73 L943.13,159.10 L943.83,159.47 L944.53,159.85 L945.23,160.23 L945.93,160.63 L946.62,161.03 L947.32,161.43 L948.02,161.84 L948.72,162.25 L949.42,162.67 L950.12,163.09 L950.82,163.51 L951.52,163.94 L952.22,164.37 L952.92,164.79 L953.62,165.22 L954.32,165.65 L955.02,166.07 L955.72,166.50 L956.42,166.92 L957.12,167.35 L957.82,167.76 L958.52,168.18 L959.22,168.59 L959.91,169.00 L960.61,169.40 L961.31,169.80 L962.01,170.19 L962.71,170.57 L963.41,170.95 L964.11,171.32 L964.81,171.68 L965.51,172.03 L966.21,172.38 L966.91,172.71 L967.61,173.03 L968.31,173.35 L969.01,173.65 L969.71,173.94 L970.41,174.22 L971.11,174.48 L971.81,174.73 L972.51,174.97 L973.20,175.19 L973.90,175.40 L974.60,175.59 L975.30,175.76 L976.00,175.92 L976.70,176.06 L977.40,176.19 L978.10,176.29 L978.80,176.38 L979.50,176.44" stroke="#6699c7"/>
<path d="M847.30,177.60 L847.60,177.60 L847.90,177.60 L848.20,177.60 L848.50,177.60 L848.80,177.60 L849.09,177.60 L849.39,177.60 L849.69,177.60 L849.99,177.60 L850.29,177.60 L850.59,177.60 L850.89,177.60 L851.19,177.60 L851.49,177.60 L851.79,177.60 L852.08,177.60 L852.38,177.60 L852.68,177.60 L852.98,177.60 L853.28,177.60 L853.58,177.60 L853.88,177.60 L854.18,177.60 L854.48,177.60 L854.78,177.60 L855.07,177.60 L855.37,177.60 L855.67,177.60 L855.97,177.60 L856.27,177.60 L856.57,177.60 L856.87,177.60 L857.17,177.60 L857.47,177.60 L857.77,177.60 L858.07,177.59 L858.36,177.58 L858.66,177.57 L858.96,177.55 L859.26,177.54 L859.56,177.52 L859.86,177.49 L860.16,177.47 L860.46,177.45 L860.76,177.42 L861.06,177.39 L861.35,177.37 L861.65,177.34 L861.95,177.31 L862.25,177.29 L862.55,177.26 L862.85,177.24 L863.15,177.21 L863.45,177.19 L863.75,177.17 L864.05,177.15 L864.35,177.14 L864.64,177.12 L864.94,177.11 L865.24,177.10 L865.54,177.10 L865.84,177.10 L866.14,177.10 L866.44,177.10 L866.74,177.11 L867.04,177.12 L867.34,177.12 L867.63,177.13 L867.93,177.14 L868.23,177.15 L868.53,177.16 L868.83,177.17 L869.13,177.19 L869.43,177.20 L869.73,177.21 L870.03,177.23 L870.33,177.24 L870.62,177.26 L870.92,177.27 L871.22,177.29 L871.52,177.30 L871.82,177.31 L872.12,177.33 L872.42,177.34 L872.72,177.35 L873.02,177.37 L873.32,177.38 L873.62,177.39 L873.91,177.40 L874.21,177.41 L874.51,177.41 L874.81,177.42 L875.11,177.43 L875.41,177.44 L875.71,177.45 L876.01,177.46 L876.31,177.47 L876.61,177.48 L876.90,177.48 L877.20,177.49 L877.50,177.50 L877.80,177.51 L878.10,177.52 L878.40,177.52 L878.70,177.53 L879.00,177.54 L879.30,177.55 L879.60,177.55 L879.90,177.56 L880.19,177.57 L880.49,177.57 L880.79,177.58 L881.09,177.58 L881.39,177.59 L881.69,177.59 L881.99,177.60 L882.29,177.60 L882.59,177.60 L882.89,177.61 L883.18,177.61 L883.48,177.61 L883.78,177.62 L884.08,177.62 L884.38,177.62 L884.68,177.63 L884.98,177.63 L885.28,177.63 L885.58,177.64 L885.88,177.64 L886.17,177.64 L886.47,177.64 L886.77,177.65 L887.07,177.65 L887.37,177.65 L887.67,177.66 L887.97,177.66 L888.27,177.66 L888.57,177.66 L888.87,177.67 L889.17,177.67 L889.46,177.67 L889.76,177.67 L890.06,177.67 L890.36,177.68 L890.66,177.68 L890.96,177.68 L891.26,177.68 L891.56,177.68 L891.86,177.69 L892.16,177.69 L892.45,177.69 L892.75,177.69 L893.05,177.69 L893.35,177.69 L893.65,177.69 L893.95,177.70 L894.25,177.70 L894.55,177.70 L894.85,177.70 L895.15,177.70 L895.45,177.70 L895.74,177.70 L896.04,177.70 L896.34,177.70 L896.64,177.70 L896.94,177.70 L897.24,177.70 L897.54,177.70 L897.84,177.70 L898.14,177.70 L898.44,177.70 L898.73,177.69 L899.03,177.69 L899.33,177.69 L899.63,177.69 L899.93,177.68 L900.23,177.68 L900.53,177.68 L900.83,177.68 L901.13,177.67 L901.43,177.67 L901.73,177.66 L902.02,177.66 L902.32,177.65 L902.62,177.65 L902.92,177.64 L903.22,177.64 L903.52,177.63 L903.82,177.63 L904.12,177.62 L904.42,177.61 L904.72,177.61 L905.01,177.60 L905.31,177.59 L905.61,177.57 L905.91,177.55 L906.21,177.52 L906.51,177.49 L906.81,177.45 L907.11,177.41 L907.41,177.36 L907.71,177.31 L908.00,177.26 L908.30,177.21 L908.60,177.16 L908.90,177.11 L909.20,177.05 L909.50,177.00 L910.20,177.14 L910.90,177.16 L911.59,177.06 L912.29,176.85 L912.99,176.52 L913.69,176.09 L914.39,175.54 L915.08,174.89 L915.78,174.12 L916.48,173.26 L917.18,172.28 L917.88,171.21 L918.57,170.04 L919.27,168.76 L919.97,167.39 L920.67,165.92 L921.37,164.36 L922.06,162.70 L922.76,160.96 L923.46,159.12 L924.16,157.20 L924.86,155.18 L925.55,153.09 L926.25,150.90 L926.95,148.64 L927.65,146.30 L928.35,143.91 L929.04,141.49 L929.74,139.08 L930.44,136.70 L931.14,134.40 L931.84,132.19 L932.53,130.10 L933.23,128.17 L933.93,126.43 L934.63,124.89 L935.33,123.55 L936.02,122.38 L936.72,121.34 L937.42,120.39 L938.12,119.51 L938.82,118.66 L939.51,117.80 L940.21,116.91 L940.91,115.95 L941.61,114.89 L942.31,113.72 L943.00,112.46 L943.70,111.12 L944.40,109.69 L945.10,108.19 L945.80,106.62 L946.49,104.99 L947.19,103.30 L947.89,101.57 L948.59,99.80 L949.29,98.00 L949.98,96.17 L950.68,94.32 L951.38,92.45 L952.08,90.59 L952.78,88.72 L953.47,86.86 L954.17,85.02 L954.87,83.20 L955.57,81.40 L956.27,79.65 L956.96,77.93 L957.66,76.27 L958.36,74.66 L959.06,73.11 L959.76,71.63 L960.45,70.20 L961.15,68.84 L961.85,67.52 L962.55,66.27 L963.25,65.06 L963.94,63.90 L964.64,62.80 L965.34,61.73 L966.04,60.72 L966.74,59.74 L967.43,58.80 L968.13,57.91 L968.83,57.05 L969.53,56.22 L970.23,55.42 L970.92,54.66 L971.62,53.92 L972.32,53.21 L973.02,52.53 L973.72,51.87 L974.41,51.23 L975.11,50.60 L975.81,50.00 L976.51,49.40 L977.21,48.82 L977.90,48.25 L978.60,47.69 L979.30,47.14" stroke="#e9a880"/>
<path d="M847.30,177.63 L848.00,177.61 L848.70,177.58 L849.40,177.55 L850.10,177.51 L850.80,177.46 L851.50,177.42 L852.20,177.37 L852.90,177.31 L853.60,177.25 L854.29,177.19 L854.99,177.13 L855.69,177.06 L856.39,176.99 L857.09,176.92 L857.79,176.85 L858.49,176.78 L859.19,176.71 L859.89,176.63 L860.59,176.56 L861.29,176.49 L861.99,176.42 L862.69,176.35 L863.39,176.28 L864.09,176.21 L864.79,176.15 L865.49,176.08 L866.19,176.02 L866.89,175.97 L867.58,175.91 L868.28,175.86 L868.98,175.82 L869.68,175.77 L870.38,175.74 L871.08,175.70 L871.78,175.67 L872.48,175.64 L873.18,175.61 L873.88,175.58 L874.58,175.56 L875.28,175.54 L875.98,175.52 L876.68,175.51 L877.38,175.49 L878.08,175.48 L878.78,175.47 L879.48,175.46 L880.18,175.45 L880.87,175.44 L881.57,175.43 L882.27,175.43 L882.97,175.42 L883.67,175.42 L884.37,175.41 L885.07,175.41 L885.77,175.40 L886.47,175.40 L887.17,175.40 L887.87,175.39 L888.57,175.39 L889.27,175.38 L889.97,175.37 L890.67,175.36 L891.37,175.36 L892.07,175.34 L892.77,175.33 L893.47,175.32 L894.16,175.30 L894.86,175.29 L895.56,175.26 L896.26,175.24 L896.96,175.22 L897.66,175.19 L898.36,175.15 L899.06,175.12 L899.76,175.08 L900.46,175.04 L901.16,174.99 L901.86,174.94 L902.56,174.88 L903.26,174.82 L903.96,174.75 L904.66,174.68 L905.36,174.61 L906.06,174.52 L906.76,174.44 L907.45,174.34 L908.15,174.24 L908.85,174.13 L909.55,174.02 L910.25,173.90 L910.95,173.77 L911.65,173.64 L912.35,173.49 L913.05,173.35 L913.75,173.19 L914.45,173.03 L915.15,172.86 L915.85,172.69 L916.55,172.52 L917.25,172.34 L917.95,172.17 L918.65,171.99 L919.35,171.81 L920.04,171.63 L920.74,171.46 L921.44,171.29 L922.14,171.12 L922.84,170.95 L923.54,170.79 L924.24,170.63 L924.94,170.48 L925.64,170.33 L926.34,170.20 L927.04,170.07 L927.74,169.95 L928.44,169.84 L929.14,169.74 L929.84,169.66 L930.54,169.58 L931.24,169.52 L931.94,169.47 L932.64,169.44 L933.33,169.42 L934.03,169.41 L934.73,169.42 L935.43,169.44 L936.13,169.48 L936.83,169.52 L937.53,169.58 L938.23,169.65 L938.93,169.73 L939.63,169.82 L940.33,169.92 L941.03,170.03 L941.73,170.15 L942.43,170.28 L943.13,170.41 L943.83,170.56 L944.53,170.71 L945.23,170.87 L945.93,171.03 L946.62,171.21 L947.32,171.38 L948.02,171.57 L948.72,171.75 L949.42,171.95 L950.12,172.14 L950.82,172.34 L951.52,172.54 L952.22,172.75 L952.92,172.96 L953.62,173.17 L954.32,173.38 L955.02,173.59 L955.72,173.80 L956.42,174.02 L957.12,174.23 L957.82,174.44 L958.52,174.65 L959.22,174.86 L959.91,175.06 L960.61,175.27 L961.31,175.46 L962.01,175.66 L962.71,175.85 L963.41,176.03 L964.11,176.21 L964.81,176.37 L965.51,176.53 L966.21,176.69 L966.91,176.83 L967.61,176.96 L968.31,177.08 L969.01,177.19 L969.71,177.29 L970.41,177.38 L971.11,177.45 L971.81,177.51 L972.51,177.55 L973.20,177.58 L973.90,177.60 L974.60,177.59 L975.30,177.57 L976.00,177.53 L976.70,177.48 L977.40,177.40 L978.10,177.30 L978.80,177.18 L979.50,177.05" stroke="#86bea1"/>
</g>
<rect x="844.00" y="44.10" width="67.58" height="32.5" rx="1.4" fill="#fff" fill-opacity="0.8" stroke="#d9d9d9" stroke-width="0.8"/>
<path d="M846.10,49.60 h15.0" stroke="#6699c7" stroke-width="1.75"/>
<text x="866.40" y="52.00" font-size="7.33" textLength="17.02" lengthAdjust="spacingAndGlyphs">PySR</text>
<path d="M846.10,59.80 h15.0" stroke="#e9a880" stroke-width="1.75"/>
<text x="866.40" y="62.20" font-size="7.33" textLength="24.73" lengthAdjust="spacingAndGlyphs">LLM-SR</text>
<path d="M846.10,70.00 h15.0" stroke="#86bea1" stroke-width="1.75"/>
<text x="866.40" y="72.40" font-size="7.33" textLength="41.61" lengthAdjust="spacingAndGlyphs">KeplerAgent</text>
<rect x="840.6" y="40.5" width="144.85" height="144.00" fill="none" stroke="#555555" stroke-width="1.1"/>
<path d="M847.40,184.5 v2.9 M874.73,184.5 v2.9 M902.06,184.5 v2.9 M929.39,184.5 v2.9 M956.72,184.5 v2.9 M984.05,184.5 v2.9 M840.6,177.50 h-2.9 M840.6,157.30 h-2.9 M840.6,137.10 h-2.9 M840.6,116.90 h-2.9 M840.6,96.70 h-2.9 M840.6,76.50 h-2.9 M840.6,56.30 h-2.9" stroke="#555" stroke-width="0.8"/>
<text x="847.40" y="194.50" font-size="7.22" text-anchor="middle" textLength="4.40" lengthAdjust="spacingAndGlyphs">0</text>
<text x="874.73" y="194.50" font-size="7.22" text-anchor="middle" textLength="4.40" lengthAdjust="spacingAndGlyphs">2</text>
<text x="902.06" y="194.50" font-size="7.22" text-anchor="middle" textLength="4.40" lengthAdjust="spacingAndGlyphs">4</text>
<text x="929.39" y="194.50" font-size="7.22" text-anchor="middle" textLength="4.40" lengthAdjust="spacingAndGlyphs">6</text>
<text x="956.72" y="194.50" font-size="7.22" text-anchor="middle" textLength="4.40" lengthAdjust="spacingAndGlyphs">8</text>
<text x="984.05" y="194.50" font-size="7.22" text-anchor="middle" textLength="8.80" lengthAdjust="spacingAndGlyphs">10</text>
<text x="835.76" y="180.05" font-size="7.22" text-anchor="end" textLength="4.40" lengthAdjust="spacingAndGlyphs">0</text>
<text x="835.76" y="159.85" font-size="7.22" text-anchor="end" textLength="4.40" lengthAdjust="spacingAndGlyphs">2</text>
<text x="835.76" y="139.65" font-size="7.22" text-anchor="end" textLength="4.40" lengthAdjust="spacingAndGlyphs">4</text>
<text x="835.76" y="119.45" font-size="7.22" text-anchor="end" textLength="4.40" lengthAdjust="spacingAndGlyphs">6</text>
<text x="835.76" y="99.25" font-size="7.22" text-anchor="end" textLength="4.40" lengthAdjust="spacingAndGlyphs">8</text>
<text x="835.76" y="79.05" font-size="7.22" text-anchor="end" textLength="8.80" lengthAdjust="spacingAndGlyphs">10</text>
<text x="835.76" y="58.85" font-size="7.22" text-anchor="end" textLength="8.80" lengthAdjust="spacingAndGlyphs">12</text>
<text x="913.03" y="204.90" font-size="8.8" text-anchor="middle" textLength="20.57" lengthAdjust="spacingAndGlyphs">Time</text>
<text x="822.23" y="112.50" font-size="8.8" text-anchor="middle" textLength="54.16" lengthAdjust="spacingAndGlyphs" transform="rotate(-90 822.23 112.50)">Relative MSE</text>
<text x="913.03" y="36.70" font-size="10.26" text-anchor="middle" font-weight="bold" textLength="49.79" lengthAdjust="spacingAndGlyphs">predprey</text>
<clipPath id="c6"><rect x="51.5" y="225.5" width="144.85" height="144.00"/></clipPath>
<path d="M57.40,225.5 V369.5 M83.24,225.5 V369.5 M109.08,225.5 V369.5 M134.92,225.5 V369.5 M160.76,225.5 V369.5 M186.60,225.5 V369.5 M51.5,362.60 H196.35 M51.5,332.60 H196.35 M51.5,302.60 H196.35 M51.5,272.60 H196.35 M51.5,242.60 H196.35" stroke="#ededed" stroke-width="1.0" fill="none"/>
<g clip-path="url(#c6)" fill="none" stroke-width="1.75" stroke-linejoin="round" stroke-linecap="butt">
<path d="M57.20,362.81 L57.90,362.85 L58.60,362.87 L59.30,362.86 L59.99,362.84 L60.69,362.79 L61.39,362.72 L62.09,362.64 L62.79,362.53 L63.49,362.41 L64.18,362.27 L64.88,362.12 L65.58,361.95 L66.28,361.76 L66.98,361.56 L67.68,361.35 L68.37,361.12 L69.07,360.88 L69.77,360.63 L70.47,360.37 L71.17,360.10 L71.87,359.81 L72.57,359.52 L73.26,359.22 L73.96,358.91 L74.66,358.59 L75.36,358.27 L76.06,357.94 L76.76,357.61 L77.45,357.27 L78.15,356.92 L78.85,356.58 L79.55,356.23 L80.25,355.87 L80.95,355.52 L81.64,355.17 L82.34,354.81 L83.04,354.46 L83.74,354.10 L84.44,353.75 L85.14,353.40 L85.84,353.06 L86.53,352.71 L87.23,352.38 L87.93,352.04 L88.63,351.72 L89.33,351.39 L90.03,351.08 L90.72,350.77 L91.42,350.47 L92.12,350.18 L92.82,349.90 L93.52,349.63 L94.22,349.37 L94.91,349.12 L95.61,348.89 L96.31,348.66 L97.01,348.45 L97.71,348.26 L98.41,348.07 L99.11,347.91 L99.80,347.76 L100.50,347.62 L101.20,347.51 L101.90,347.41 L102.60,347.33 L103.30,347.26 L103.99,347.22 L104.69,347.20 L105.39,347.20 L106.09,347.22 L106.79,347.27 L107.49,347.33 L108.18,347.41 L108.88,347.52 L109.58,347.64 L110.28,347.78 L110.98,347.94 L111.68,348.11 L112.38,348.30 L113.07,348.50 L113.77,348.72 L114.47,348.95 L115.17,349.19 L115.87,349.45 L116.57,349.71 L117.26,349.98 L117.96,350.27 L118.66,350.56 L119.36,350.86 L120.06,351.16 L120.76,351.47 L121.45,351.79 L122.15,352.11 L122.85,352.43 L123.55,352.76 L124.25,353.08 L124.95,353.41 L125.65,353.74 L126.34,354.07 L127.04,354.40 L127.74,354.72 L128.44,355.04 L129.14,355.36 L129.84,355.67 L130.53,355.98 L131.23,356.28 L131.93,356.57 L132.63,356.86 L133.33,357.14 L134.03,357.41 L134.72,357.66 L135.42,357.91 L136.12,358.15 L136.82,358.37 L137.52,358.58 L138.22,358.77 L138.92,358.95 L139.61,359.12 L140.31,359.26 L141.01,359.40 L141.71,359.51 L142.41,359.61 L143.11,359.69 L143.80,359.75 L144.50,359.79 L145.20,359.81 L145.90,359.81 L146.60,359.79 L147.30,359.75 L147.99,359.68 L148.69,359.60 L149.39,359.49 L150.09,359.35 L150.79,359.20 L151.49,359.01 L152.19,358.81 L152.88,358.57 L153.58,358.31 L154.28,358.03 L154.98,357.72 L155.68,357.37 L156.38,357.00 L157.07,356.61 L157.77,356.18 L158.47,355.72 L159.17,355.23 L159.87,354.71 L160.57,354.16 L161.26,353.57 L161.96,352.95 L162.66,352.30 L163.36,351.62 L164.06,350.90 L164.76,350.15 L165.46,349.36 L166.15,348.53 L166.85,347.67 L167.55,346.77 L168.25,345.83 L168.95,344.86 L169.65,343.85 L170.34,342.79 L171.04,341.70 L171.74,340.56 L172.44,339.38 L173.14,338.16 L173.84,336.89 L174.53,335.58 L175.23,334.21 L175.93,332.80 L176.63,331.34 L177.33,329.83 L178.03,328.27 L178.73,326.67 L179.42,325.03 L180.12,323.34 L180.82,321.61 L181.52,319.85 L182.22,318.05 L182.92,316.21 L183.61,314.35 L184.31,312.45 L185.01,310.54 L185.71,308.59 L186.41,306.63 L187.11,304.65 L187.80,302.65 L188.50,300.64 L189.20,298.62 L189.90,296.60" stroke="#6699c7"/>
<path d="M57.20,362.71 L57.90,362.64 L58.60,362.56 L59.29,362.47 L59.99,362.38 L60.69,362.28 L61.39,362.18 L62.09,362.07 L62.78,361.95 L63.48,361.82 L64.18,361.68 L64.88,361.54 L65.57,361.38 L66.27,361.22 L66.97,361.05 L67.67,360.86 L68.37,360.66 L69.06,360.46 L69.76,360.24 L70.46,360.01 L71.16,359.76 L71.86,359.51 L72.55,359.23 L73.25,358.95 L73.95,358.65 L74.65,358.34 L75.35,358.01 L76.04,357.67 L76.74,357.31 L77.44,356.93 L78.14,356.54 L78.83,356.14 L79.53,355.73 L80.23,355.31 L80.93,354.88 L81.63,354.45 L82.32,354.00 L83.02,353.56 L83.72,353.11 L84.42,352.65 L85.12,352.20 L85.81,351.75 L86.51,351.30 L87.21,350.85 L87.91,350.41 L88.61,349.97 L89.30,349.54 L90.00,349.12 L90.70,348.71 L91.40,348.31 L92.09,347.93 L92.79,347.55 L93.49,347.19 L94.19,346.85 L94.89,346.53 L95.58,346.22 L96.28,345.93 L96.98,345.67 L97.68,345.42 L98.38,345.19 L99.07,344.98 L99.77,344.79 L100.47,344.62 L101.17,344.46 L101.87,344.33 L102.56,344.22 L103.26,344.13 L103.96,344.05 L104.66,344.00 L105.35,343.97 L106.05,343.96 L106.75,343.96 L107.45,343.99 L108.15,344.04 L108.84,344.11 L109.54,344.20 L110.24,344.31 L110.94,344.44 L111.64,344.59 L112.33,344.76 L113.03,344.96 L113.73,345.17 L114.43,345.41 L115.13,345.66 L115.82,345.94 L116.52,346.23 L117.22,346.54 L117.92,346.87 L118.61,347.20 L119.31,347.56 L120.01,347.92 L120.71,348.29 L121.41,348.67 L122.10,349.06 L122.80,349.45 L123.50,349.84 L124.20,350.24 L124.90,350.64 L125.59,351.03 L126.29,351.43 L126.99,351.82 L127.69,352.21 L128.39,352.59 L129.08,352.96 L129.78,353.33 L130.48,353.68 L131.18,354.02 L131.87,354.35 L132.57,354.66 L133.27,354.96 L133.97,355.24 L134.67,355.50 L135.36,355.74 L136.06,355.96 L136.76,356.15 L137.46,356.33 L138.16,356.48 L138.85,356.61 L139.55,356.71 L140.25,356.79 L140.95,356.85 L141.65,356.88 L142.34,356.88 L143.04,356.86 L143.74,356.81 L144.44,356.73 L145.13,356.63 L145.83,356.49 L146.53,356.33 L147.23,356.13 L147.93,355.90 L148.62,355.65 L149.32,355.36 L150.02,355.04 L150.72,354.68 L151.42,354.30 L152.11,353.87 L152.81,353.42 L153.51,352.93 L154.21,352.40 L154.91,351.83 L155.60,351.23 L156.30,350.58 L157.00,349.89 L157.70,349.14 L158.39,348.34 L159.09,347.49 L159.79,346.58 L160.49,345.60 L161.19,344.56 L161.88,343.45 L162.58,342.26 L163.28,341.01 L163.98,339.67 L164.68,338.25 L165.37,336.75 L166.07,335.16 L166.77,333.48 L167.47,331.71 L168.17,329.83 L168.86,327.87 L169.56,325.80 L170.26,323.64 L170.96,321.38 L171.65,319.03 L172.35,316.58 L173.05,314.04 L173.75,311.40 L174.45,308.67 L175.14,305.85 L175.84,302.93 L176.54,299.91 L177.24,296.81 L177.94,293.61 L178.63,290.32 L179.33,286.94 L180.03,283.48 L180.73,279.96 L181.43,276.38 L182.12,272.77 L182.82,269.12 L183.52,265.45 L184.22,261.77 L184.91,258.10 L185.61,254.43 L186.31,250.77 L187.01,247.10 L187.71,243.42 L188.40,239.72 L189.10,235.99 L189.80,232.23" stroke="#86bea1"/>
</g>
<rect x="54.90" y="229.10" width="67.58" height="22.3" rx="1.4" fill="#fff" fill-opacity="0.8" stroke="#d9d9d9" stroke-width="0.8"/>
<path d="M57.00,234.60 h15.0" stroke="#6699c7" stroke-width="1.75"/>
<text x="77.30" y="237.00" font-size="7.33" textLength="17.02" lengthAdjust="spacingAndGlyphs">PySR</text>
<path d="M57.00,244.80 h15.0" stroke="#86bea1" stroke-width="1.75"/>
<text x="77.30" y="247.20" font-size="7.33" textLength="41.61" lengthAdjust="spacingAndGlyphs">KeplerAgent</text>
<rect x="51.5" y="225.5" width="144.85" height="144.00" fill="none" stroke="#555555" stroke-width="1.1"/>
<path d="M57.40,369.5 v2.9 M83.24,369.5 v2.9 M109.08,369.5 v2.9 M134.92,369.5 v2.9 M160.76,369.5 v2.9 M186.60,369.5 v2.9 M51.5,362.60 h-2.9 M51.5,332.60 h-2.9 M51.5,302.60 h-2.9 M51.5,272.60 h-2.9 M51.5,242.60 h-2.9" stroke="#555" stroke-width="0.8"/>
<text x="57.40" y="379.50" font-size="7.22" text-anchor="middle" textLength="4.40" lengthAdjust="spacingAndGlyphs">0</text>
<text x="83.24" y="379.50" font-size="7.22" text-anchor="middle" textLength="4.40" lengthAdjust="spacingAndGlyphs">2</text>
<text x="109.08" y="379.50" font-size="7.22" text-anchor="middle" textLength="4.40" lengthAdjust="spacingAndGlyphs">4</text>
<text x="134.92" y="379.50" font-size="7.22" text-anchor="middle" textLength="4.40" lengthAdjust="spacingAndGlyphs">6</text>
<text x="160.76" y="379.50" font-size="7.22" text-anchor="middle" textLength="4.40" lengthAdjust="spacingAndGlyphs">8</text>
<text x="186.60" y="379.50" font-size="7.22" text-anchor="middle" textLength="8.80" lengthAdjust="spacingAndGlyphs">10</text>
<text x="46.66" y="365.15" font-size="7.22" text-anchor="end" textLength="28.60" lengthAdjust="spacingAndGlyphs">0.00000</text>
<text x="46.66" y="335.15" font-size="7.22" text-anchor="end" textLength="28.60" lengthAdjust="spacingAndGlyphs">0.00005</text>
<text x="46.66" y="305.15" font-size="7.22" text-anchor="end" textLength="28.60" lengthAdjust="spacingAndGlyphs">0.00010</text>
<text x="46.66" y="275.15" font-size="7.22" text-anchor="end" textLength="28.60" lengthAdjust="spacingAndGlyphs">0.00015</text>
<text x="46.66" y="245.15" font-size="7.22" text-anchor="end" textLength="28.60" lengthAdjust="spacingAndGlyphs">0.00020</text>
<text x="123.92" y="389.90" font-size="8.8" text-anchor="middle" textLength="20.57" lengthAdjust="spacingAndGlyphs">Time</text>
<text x="13.33" y="297.50" font-size="8.8" text-anchor="middle" textLength="54.16" lengthAdjust="spacingAndGlyphs" transform="rotate(-90 13.33 297.50)">Relative MSE</text>
<text x="123.92" y="221.70" font-size="10.26" text-anchor="middle" font-weight="bold" textLength="53.67" lengthAdjust="spacingAndGlyphs">shearflow</text>
<clipPath id="c7"><rect x="248.5" y="225.5" width="144.85" height="144.00"/></clipPath>
<path d="M255.20,225.5 V369.5 M282.20,225.5 V369.5 M309.20,225.5 V369.5 M336.20,225.5 V369.5 M363.20,225.5 V369.5 M390.20,225.5 V369.5 M248.5,362.60 H393.35 M248.5,342.48 H393.35 M248.5,322.36 H393.35 M248.5,302.24 H393.35 M248.5,282.12 H393.35 M248.5,262.00 H393.35 M248.5,241.88 H393.35" stroke="#ededed" stroke-width="1.0" fill="none"/>
<g clip-path="url(#c7)" fill="none" stroke-width="1.75" stroke-linejoin="round" stroke-linecap="butt">
<path d="M254.90,362.30 L255.20,360.60 L255.49,358.79 L255.79,356.89 L256.08,354.91 L256.38,352.85 L256.68,350.47 L256.97,347.55 L257.27,346.20 L257.56,346.28 L257.86,347.10 L258.15,352.13 L258.45,355.05 L258.75,356.80 L259.04,357.93 L259.34,358.31 L259.63,358.53 L259.93,358.72 L260.23,358.88 L260.52,359.02 L260.82,359.12 L261.11,359.20 L261.41,359.26 L261.70,359.29 L262.00,359.30 L262.70,359.44 L263.40,359.57 L264.09,359.70 L264.79,359.83 L265.49,359.95 L266.19,360.07 L266.88,360.18 L267.58,360.28 L268.28,360.39 L268.98,360.48 L269.68,360.58 L270.37,360.67 L271.07,360.75 L271.77,360.83 L272.47,360.91 L273.16,360.98 L273.86,361.05 L274.56,361.12 L275.26,361.18 L275.96,361.24 L276.65,361.29 L277.35,361.34 L278.05,361.38 L278.75,361.43 L279.44,361.46 L280.14,361.50 L280.84,361.53 L281.54,361.56 L282.24,361.58 L282.93,361.60 L283.63,361.62 L284.33,361.63 L285.03,361.64 L285.72,361.65 L286.42,361.66 L287.12,361.66 L287.82,361.66 L288.52,361.65 L289.21,361.64 L289.91,361.63 L290.61,361.62 L291.31,361.60 L292.00,361.58 L292.70,361.56 L293.40,361.54 L294.10,361.51 L294.79,361.48 L295.49,361.45 L296.19,361.42 L296.89,361.38 L297.59,361.34 L298.28,361.30 L298.98,361.25 L299.68,361.21 L300.38,361.16 L301.07,361.11 L301.77,361.06 L302.47,361.00 L303.17,360.95 L303.87,360.89 L304.56,360.83 L305.26,360.76 L305.96,360.70 L306.66,360.64 L307.35,360.57 L308.05,360.50 L308.75,360.43 L309.45,360.36 L310.15,360.28 L310.84,360.21 L311.54,360.13 L312.24,360.05 L312.94,359.97 L313.63,359.89 L314.33,359.81 L315.03,359.73 L315.73,359.65 L316.43,359.56 L317.12,359.48 L317.82,359.39 L318.52,359.30 L319.22,359.21 L319.91,359.12 L320.61,359.03 L321.31,358.94 L322.01,358.84 L322.71,358.74 L323.40,358.64 L324.10,358.54 L324.80,358.43 L325.50,358.32 L326.19,358.21 L326.89,358.10 L327.59,357.98 L328.29,357.86 L328.99,357.74 L329.68,357.61 L330.38,357.48 L331.08,357.34 L331.78,357.20 L332.47,357.05 L333.17,356.90 L333.87,356.75 L334.57,356.59 L335.27,356.43 L335.96,356.26 L336.66,356.08 L337.36,355.90 L338.06,355.71 L338.75,355.52 L339.45,355.32 L340.15,355.12 L340.85,354.91 L341.55,354.69 L342.24,354.47 L342.94,354.24 L343.64,354.00 L344.34,353.76 L345.03,353.50 L345.73,353.24 L346.43,352.98 L347.13,352.70 L347.83,352.42 L348.52,352.13 L349.22,351.83 L349.92,351.52 L350.62,351.20 L351.31,350.87 L352.01,350.54 L352.71,350.20 L353.41,349.84 L354.11,349.48 L354.80,349.11 L355.50,348.73 L356.20,348.33 L356.90,347.93 L357.59,347.52 L358.29,347.10 L358.99,346.66 L359.69,346.22 L360.38,345.76 L361.08,345.30 L361.78,344.82 L362.48,344.33 L363.18,343.81 L363.87,343.27 L364.57,342.71 L365.27,342.11 L365.97,341.47 L366.66,340.80 L367.36,340.08 L368.06,339.30 L368.76,338.48 L369.46,337.59 L370.15,336.64 L370.85,335.63 L371.55,334.54 L372.25,333.38 L372.94,332.14 L373.64,330.81 L374.34,329.40 L375.04,327.89 L375.74,326.28 L376.43,324.56 L377.13,322.67 L377.83,320.59 L378.53,318.28 L379.22,315.71 L379.92,312.83 L380.62,309.61 L381.32,306.02 L382.02,302.02 L382.71,297.54 L383.41,292.09 L384.11,284.83 L384.81,274.91 L385.50,261.77 L386.20,247.55 L386.90,232.09" stroke="#6699c7"/>
<path d="M254.10,362.60 L257.40,362.10 L258.20,356.80 L259.10,353.50 L260.30,359.60 L261.50,354.87 L262.70,360.16 L263.90,356.02 L265.10,360.60 L266.30,357.00 L267.50,360.96 L268.70,357.83 L269.90,361.25 L271.10,358.53 L272.30,361.48 L273.50,359.13 L274.70,361.66 L275.90,359.63 L277.10,361.81 L278.30,360.05 L279.50,361.93 L280.70,360.41 L281.90,362.02 L283.10,360.72 L284.30,362.10 L285.50,360.98 L286.70,362.16 L290.00,362.55 L330.00,362.65 L380.00,362.60 L383.00,362.40 L385.50,361.80 L387.00,361.10" stroke="#e9a880"/>
</g>
<rect x="251.90" y="229.10" width="50.27" height="22.3" rx="1.4" fill="#fff" fill-opacity="0.8" stroke="#d9d9d9" stroke-width="0.8"/>
<path d="M254.00,234.60 h15.0" stroke="#6699c7" stroke-width="1.75"/>
<text x="274.30" y="237.00" font-size="7.33" textLength="17.02" lengthAdjust="spacingAndGlyphs">PySR</text>
<path d="M254.00,244.80 h15.0" stroke="#e9a880" stroke-width="1.75"/>
<text x="274.30" y="247.20" font-size="7.33" textLength="24.73" lengthAdjust="spacingAndGlyphs">LLM-SR</text>
<rect x="248.5" y="225.5" width="144.85" height="144.00" fill="none" stroke="#555555" stroke-width="1.1"/>
<path d="M255.20,369.5 v2.9 M282.20,369.5 v2.9 M309.20,369.5 v2.9 M336.20,369.5 v2.9 M363.20,369.5 v2.9 M390.20,369.5 v2.9 M248.5,362.60 h-2.9 M248.5,342.48 h-2.9 M248.5,322.36 h-2.9 M248.5,302.24 h-2.9 M248.5,282.12 h-2.9 M248.5,262.00 h-2.9 M248.5,241.88 h-2.9" stroke="#555" stroke-width="0.8"/>
<text x="255.20" y="379.50" font-size="7.22" text-anchor="middle" textLength="4.40" lengthAdjust="spacingAndGlyphs">0</text>
<text x="282.20" y="379.50" font-size="7.22" text-anchor="middle" textLength="4.40" lengthAdjust="spacingAndGlyphs">2</text>
<text x="309.20" y="379.50" font-size="7.22" text-anchor="middle" textLength="4.40" lengthAdjust="spacingAndGlyphs">4</text>
<text x="336.20" y="379.50" font-size="7.22" text-anchor="middle" textLength="4.40" lengthAdjust="spacingAndGlyphs">6</text>
<text x="363.20" y="379.50" font-size="7.22" text-anchor="middle" textLength="4.40" lengthAdjust="spacingAndGlyphs">8</text>
<text x="390.20" y="379.50" font-size="7.22" text-anchor="middle" textLength="8.80" lengthAdjust="spacingAndGlyphs">10</text>
<text x="243.66" y="365.15" font-size="7.22" text-anchor="end" textLength="4.40" lengthAdjust="spacingAndGlyphs">0</text>
<text x="243.66" y="345.03" font-size="7.22" text-anchor="end" textLength="4.40" lengthAdjust="spacingAndGlyphs">1</text>
<text x="243.66" y="324.91" font-size="7.22" text-anchor="end" textLength="4.40" lengthAdjust="spacingAndGlyphs">2</text>
<text x="243.66" y="304.79" font-size="7.22" text-anchor="end" textLength="4.40" lengthAdjust="spacingAndGlyphs">3</text>
<text x="243.66" y="284.67" font-size="7.22" text-anchor="end" textLength="4.40" lengthAdjust="spacingAndGlyphs">4</text>
<text x="243.66" y="264.55" font-size="7.22" text-anchor="end" textLength="4.40" lengthAdjust="spacingAndGlyphs">5</text>
<text x="243.66" y="244.43" font-size="7.22" text-anchor="end" textLength="4.40" lengthAdjust="spacingAndGlyphs">6</text>
<text x="320.93" y="389.90" font-size="8.8" text-anchor="middle" textLength="20.57" lengthAdjust="spacingAndGlyphs">Time</text>
<text x="234.53" y="297.50" font-size="8.8" text-anchor="middle" textLength="54.16" lengthAdjust="spacingAndGlyphs" transform="rotate(-90 234.53 297.50)">Relative MSE</text>
<text x="320.93" y="221.70" font-size="10.26" text-anchor="middle" font-weight="bold" textLength="20.18" lengthAdjust="spacingAndGlyphs">vdp</text>
<clipPath id="c8"><rect x="445.8" y="225.5" width="144.85" height="144.00"/></clipPath>
<path d="M452.50,225.5 V369.5 M487.00,225.5 V369.5 M521.50,225.5 V369.5 M556.00,225.5 V369.5 M590.50,225.5 V369.5 M445.8,362.60 H590.65 M445.8,339.52 H590.65 M445.8,316.44 H590.65 M445.8,293.36 H590.65 M445.8,270.28 H590.65 M445.8,247.20 H590.65" stroke="#ededed" stroke-width="1.0" fill="none"/>
<g clip-path="url(#c8)" fill="none" stroke-width="1.75" stroke-linejoin="round" stroke-linecap="butt">
<path d="M452.30,362.62 L453.00,362.59 L453.70,362.54 L454.40,362.48 L455.09,362.40 L455.79,362.31 L456.49,362.20 L457.19,362.08 L457.89,361.95 L458.59,361.80 L459.28,361.64 L459.98,361.46 L460.68,361.27 L461.38,361.07 L462.08,360.85 L462.78,360.62 L463.47,360.38 L464.17,360.13 L464.87,359.86 L465.57,359.58 L466.27,359.28 L466.97,358.98 L467.67,358.66 L468.36,358.33 L469.06,357.99 L469.76,357.64 L470.46,357.28 L471.16,356.90 L471.86,356.52 L472.55,356.12 L473.25,355.71 L473.95,355.29 L474.65,354.86 L475.35,354.42 L476.05,353.97 L476.74,353.51 L477.44,353.04 L478.14,352.56 L478.84,352.08 L479.54,351.58 L480.24,351.07 L480.93,350.55 L481.63,350.03 L482.33,349.49 L483.03,348.95 L483.73,348.40 L484.43,347.84 L485.13,347.27 L485.82,346.69 L486.52,346.11 L487.22,345.52 L487.92,344.92 L488.62,344.31 L489.32,343.70 L490.01,343.07 L490.71,342.45 L491.41,341.81 L492.11,341.17 L492.81,340.52 L493.51,339.87 L494.20,339.21 L494.90,338.54 L495.60,337.87 L496.30,337.19 L497.00,336.50 L497.70,335.81 L498.40,335.12 L499.09,334.42 L499.79,333.71 L500.49,333.00 L501.19,332.29 L501.89,331.57 L502.59,330.85 L503.28,330.12 L503.98,329.39 L504.68,328.65 L505.38,327.91 L506.08,327.17 L506.78,326.42 L507.47,325.67 L508.17,324.92 L508.87,324.17 L509.57,323.41 L510.27,322.65 L510.97,321.88 L511.67,321.12 L512.36,320.35 L513.06,319.58 L513.76,318.80 L514.46,318.03 L515.16,317.25 L515.86,316.47 L516.55,315.69 L517.25,314.91 L517.95,314.12 L518.65,313.33 L519.35,312.54 L520.05,311.75 L520.74,310.95 L521.44,310.15 L522.14,309.36 L522.84,308.55 L523.54,307.75 L524.24,306.94 L524.93,306.14 L525.63,305.33 L526.33,304.52 L527.03,303.70 L527.73,302.89 L528.43,302.07 L529.13,301.25 L529.82,300.43 L530.52,299.61 L531.22,298.78 L531.92,297.95 L532.62,297.13 L533.32,296.30 L534.01,295.46 L534.71,294.63 L535.41,293.79 L536.11,292.96 L536.81,292.12 L537.51,291.28 L538.20,290.43 L538.90,289.59 L539.60,288.74 L540.30,287.90 L541.00,287.05 L541.70,286.20 L542.40,285.34 L543.09,284.49 L543.79,283.63 L544.49,282.78 L545.19,281.92 L545.89,281.06 L546.59,280.20 L547.28,279.33 L547.98,278.47 L548.68,277.60 L549.38,276.73 L550.08,275.87 L550.78,275.00 L551.47,274.12 L552.17,273.25 L552.87,272.38 L553.57,271.50 L554.27,270.62 L554.97,269.75 L555.67,268.87 L556.36,267.99 L557.06,267.10 L557.76,266.22 L558.46,265.34 L559.16,264.45 L559.86,263.57 L560.55,262.68 L561.25,261.79 L561.95,260.90 L562.65,260.01 L563.35,259.12 L564.05,258.22 L564.74,257.33 L565.44,256.43 L566.14,255.54 L566.84,254.64 L567.54,253.74 L568.24,252.84 L568.93,251.94 L569.63,251.04 L570.33,250.14 L571.03,249.24 L571.73,248.33 L572.43,247.43 L573.13,246.52 L573.82,245.62 L574.52,244.71 L575.22,243.80 L575.92,242.89 L576.62,241.98 L577.32,241.07 L578.01,240.16 L578.71,239.25 L579.41,238.34 L580.11,237.43 L580.81,236.51 L581.51,235.60 L582.20,234.69 L582.90,233.77 L583.60,232.86 L584.30,231.94" stroke="#86bea1"/>
</g>
<rect x="449.20" y="229.10" width="67.58" height="32.5" rx="1.4" fill="#fff" fill-opacity="0.8" stroke="#d9d9d9" stroke-width="0.8"/>
<path d="M451.30,234.60 h15.0" stroke="#6699c7" stroke-width="1.75"/>
<text x="471.60" y="237.00" font-size="7.33" textLength="17.02" lengthAdjust="spacingAndGlyphs">PySR</text>
<path d="M451.30,244.80 h15.0" stroke="#e9a880" stroke-width="1.75"/>
<text x="471.60" y="247.20" font-size="7.33" textLength="24.73" lengthAdjust="spacingAndGlyphs">LLM-SR</text>
<path d="M451.30,255.00 h15.0" stroke="#86bea1" stroke-width="1.75"/>
<text x="471.60" y="257.40" font-size="7.33" textLength="41.61" lengthAdjust="spacingAndGlyphs">KeplerAgent</text>
<rect x="445.8" y="225.5" width="144.85" height="144.00" fill="none" stroke="#555555" stroke-width="1.1"/>
<path d="M452.50,369.5 v2.9 M487.00,369.5 v2.9 M521.50,369.5 v2.9 M556.00,369.5 v2.9 M590.50,369.5 v2.9 M445.8,362.60 h-2.9 M445.8,339.52 h-2.9 M445.8,316.44 h-2.9 M445.8,293.36 h-2.9 M445.8,270.28 h-2.9 M445.8,247.20 h-2.9" stroke="#555" stroke-width="0.8"/>
<text x="452.50" y="379.50" font-size="7.22" text-anchor="middle" textLength="4.40" lengthAdjust="spacingAndGlyphs">0</text>
<text x="487.00" y="379.50" font-size="7.22" text-anchor="middle" textLength="4.40" lengthAdjust="spacingAndGlyphs">1</text>
<text x="521.50" y="379.50" font-size="7.22" text-anchor="middle" textLength="4.40" lengthAdjust="spacingAndGlyphs">2</text>
<text x="556.00" y="379.50" font-size="7.22" text-anchor="middle" textLength="4.40" lengthAdjust="spacingAndGlyphs">3</text>
<text x="590.50" y="379.50" font-size="7.22" text-anchor="middle" textLength="4.40" lengthAdjust="spacingAndGlyphs">4</text>
<text x="440.96" y="365.15" font-size="7.22" text-anchor="end" textLength="28.60" lengthAdjust="spacingAndGlyphs">0.00000</text>
<text x="440.96" y="342.07" font-size="7.22" text-anchor="end" textLength="28.60" lengthAdjust="spacingAndGlyphs">0.00002</text>
<text x="440.96" y="318.99" font-size="7.22" text-anchor="end" textLength="28.60" lengthAdjust="spacingAndGlyphs">0.00004</text>
<text x="440.96" y="295.91" font-size="7.22" text-anchor="end" textLength="28.60" lengthAdjust="spacingAndGlyphs">0.00006</text>
<text x="440.96" y="272.83" font-size="7.22" text-anchor="end" textLength="28.60" lengthAdjust="spacingAndGlyphs">0.00008</text>
<text x="440.96" y="249.75" font-size="7.22" text-anchor="end" textLength="28.60" lengthAdjust="spacingAndGlyphs">0.00010</text>
<text x="518.23" y="389.90" font-size="8.8" text-anchor="middle" textLength="20.57" lengthAdjust="spacingAndGlyphs">Time</text>
<text x="407.63" y="297.50" font-size="8.8" text-anchor="middle" textLength="54.16" lengthAdjust="spacingAndGlyphs" transform="rotate(-90 407.63 297.50)">Relative MSE</text>
<text x="518.23" y="221.70" font-size="10.26" text-anchor="middle" font-weight="bold" textLength="25.09" lengthAdjust="spacingAndGlyphs">dosc</text>
<clipPath id="c9"><rect x="643.4" y="225.5" width="144.85" height="144.00"/></clipPath>
<path d="M650.00,225.5 V369.5 M683.30,225.5 V369.5 M716.60,225.5 V369.5 M749.90,225.5 V369.5 M783.20,225.5 V369.5 M643.4,362.80 H788.25 M643.4,339.54 H788.25 M643.4,316.28 H788.25 M643.4,293.02 H788.25 M643.4,269.76 H788.25 M643.4,246.50 H788.25" stroke="#ededed" stroke-width="1.0" fill="none"/>
<g clip-path="url(#c9)" fill="none" stroke-width="1.75" stroke-linejoin="round" stroke-linecap="butt">
<path d="M650.00,362.60 L650.30,362.60 L650.60,362.60 L650.90,362.60 L651.20,362.60 L651.50,362.60 L651.79,362.60 L652.09,362.60 L652.39,362.60 L652.69,362.60 L652.99,362.60 L653.29,362.59 L653.59,362.59 L653.89,362.59 L654.19,362.59 L654.49,362.59 L654.79,362.59 L655.08,362.59 L655.38,362.59 L655.68,362.58 L655.98,362.58 L656.28,362.58 L656.58,362.58 L656.88,362.58 L657.18,362.58 L657.48,362.57 L657.78,362.57 L658.08,362.57 L658.37,362.57 L658.67,362.57 L658.97,362.56 L659.27,362.56 L659.57,362.56 L659.87,362.56 L660.17,362.55 L660.47,362.55 L660.77,362.55 L661.07,362.55 L661.37,362.54 L661.66,362.54 L661.96,362.54 L662.26,362.54 L662.56,362.53 L662.86,362.53 L663.16,362.53 L663.46,362.52 L663.76,362.52 L664.06,362.52 L664.36,362.52 L664.66,362.51 L664.95,362.51 L665.25,362.51 L665.55,362.50 L665.85,362.50 L666.15,362.50 L666.45,362.50 L666.75,362.49 L667.05,362.49 L667.35,362.48 L667.65,362.48 L667.95,362.48 L668.25,362.47 L668.54,362.47 L668.84,362.46 L669.14,362.46 L669.44,362.45 L669.74,362.44 L670.04,362.44 L670.34,362.43 L670.64,362.43 L670.94,362.42 L671.24,362.41 L671.54,362.41 L671.83,362.40 L672.13,362.39 L672.43,362.39 L672.73,362.38 L673.03,362.37 L673.33,362.36 L673.63,362.36 L673.93,362.35 L674.23,362.34 L674.53,362.33 L674.83,362.32 L675.12,362.31 L675.42,362.31 L675.72,362.30 L676.02,362.29 L676.32,362.28 L676.62,362.27 L676.92,362.26 L677.22,362.25 L677.52,362.24 L677.82,362.23 L678.12,362.22 L678.41,362.21 L678.71,362.20 L679.01,362.19 L679.31,362.19 L679.61,362.18 L679.91,362.17 L680.21,362.16 L680.51,362.15 L680.81,362.14 L681.11,362.13 L681.41,362.11 L681.70,362.10 L682.00,362.09 L682.30,362.08 L682.60,362.07 L682.90,362.06 L683.20,362.05 L683.50,362.04 L683.80,362.03 L684.10,362.02 L684.40,362.01 L684.70,362.00 L684.99,361.99 L685.29,361.98 L685.59,361.97 L685.89,361.96 L686.19,361.95 L686.49,361.94 L686.79,361.93 L687.09,361.92 L687.39,361.91 L687.69,361.90 L687.99,361.88 L688.28,361.87 L688.58,361.86 L688.88,361.85 L689.18,361.84 L689.48,361.83 L689.78,361.81 L690.08,361.80 L690.38,361.79 L690.68,361.78 L690.98,361.76 L691.28,361.75 L691.57,361.74 L691.87,361.72 L692.17,361.71 L692.47,361.69 L692.77,361.68 L693.07,361.66 L693.37,361.65 L693.67,361.63 L693.97,361.62 L694.27,361.60 L694.57,361.58 L694.86,361.57 L695.16,361.55 L695.46,361.53 L695.76,361.51 L696.06,361.49 L696.36,361.47 L696.66,361.45 L696.96,361.43 L697.26,361.41 L697.56,361.39 L697.86,361.37 L698.15,361.35 L698.45,361.33 L698.75,361.30 L699.05,361.28 L699.35,361.25 L699.65,361.23 L699.95,361.20 L700.25,361.18 L700.55,361.14 L700.85,361.11 L701.15,361.07 L701.45,361.02 L701.74,360.98 L702.04,360.93 L702.34,360.87 L702.64,360.82 L702.94,360.76 L703.24,360.70 L703.54,360.64 L703.84,360.58 L704.14,360.52 L704.44,360.45 L704.74,360.39 L705.03,360.33 L705.33,360.27 L705.63,360.21 L705.93,360.15 L706.23,360.09 L706.53,360.04 L706.83,359.98 L707.13,359.93 L707.43,359.87 L707.73,359.81 L708.03,359.76 L708.32,359.70 L708.62,359.65 L708.92,359.59 L709.22,359.53 L709.52,359.47 L709.82,359.41 L710.12,359.35 L710.42,359.29 L710.72,359.23 L711.02,359.17 L711.32,359.11 L711.61,359.05 L711.91,358.98 L712.21,358.92 L712.51,358.85 L712.81,358.79 L713.11,358.72 L713.41,358.65 L713.71,358.58 L714.01,358.51 L714.31,358.43 L714.61,358.36 L714.90,358.28 L715.20,358.21 L715.50,358.13 L715.80,358.06 L716.10,357.98 L716.40,357.90 L717.10,357.74 L717.80,357.58 L718.49,357.40 L719.19,357.22 L719.89,357.03 L720.59,356.82 L721.29,356.61 L721.98,356.38 L722.68,356.14 L723.38,355.89 L724.08,355.63 L724.77,355.35 L725.47,355.06 L726.17,354.76 L726.87,354.45 L727.57,354.12 L728.26,353.77 L728.96,353.41 L729.66,353.04 L730.36,352.65 L731.06,352.24 L731.75,351.82 L732.45,351.38 L733.15,350.92 L733.85,350.45 L734.54,349.96 L735.24,349.45 L735.94,348.92 L736.64,348.37 L737.34,347.80 L738.03,347.22 L738.73,346.61 L739.43,345.98 L740.13,345.34 L740.83,344.67 L741.52,343.98 L742.22,343.26 L742.92,342.53 L743.62,341.77 L744.31,340.99 L745.01,340.19 L745.71,339.36 L746.41,338.51 L747.11,337.63 L747.80,336.73 L748.50,335.80 L749.20,334.85 L749.90,333.87 L750.60,332.87 L751.29,331.83 L751.99,330.78 L752.69,329.69 L753.39,328.58 L754.09,327.43 L754.78,326.26 L755.48,325.06 L756.18,323.84 L756.88,322.58 L757.57,321.29 L758.27,319.97 L758.97,318.62 L759.67,317.24 L760.37,315.83 L761.06,314.38 L761.76,312.90 L762.46,311.36 L763.16,309.78 L763.86,308.14 L764.55,306.43 L765.25,304.65 L765.95,302.79 L766.65,300.85 L767.34,298.82 L768.04,296.69 L768.74,294.46 L769.44,292.12 L770.14,289.67 L770.83,287.09 L771.53,284.37 L772.23,281.47 L772.93,278.29 L773.63,274.85 L774.32,271.22 L775.02,267.45 L775.72,263.60 L776.42,259.72 L777.11,255.85 L777.81,252.02 L778.51,248.28 L779.21,244.64 L779.91,241.16 L780.60,237.85 L781.30,234.77 L782.00,231.94" stroke="#86bea1"/>
</g>
<rect x="646.80" y="229.10" width="67.58" height="32.5" rx="1.4" fill="#fff" fill-opacity="0.8" stroke="#d9d9d9" stroke-width="0.8"/>
<path d="M648.90,234.60 h15.0" stroke="#6699c7" stroke-width="1.75"/>
<text x="669.20" y="237.00" font-size="7.33" textLength="17.02" lengthAdjust="spacingAndGlyphs">PySR</text>
<path d="M648.90,244.80 h15.0" stroke="#e9a880" stroke-width="1.75"/>
<text x="669.20" y="247.20" font-size="7.33" textLength="24.73" lengthAdjust="spacingAndGlyphs">LLM-SR</text>
<path d="M648.90,255.00 h15.0" stroke="#86bea1" stroke-width="1.75"/>
<text x="669.20" y="257.40" font-size="7.33" textLength="41.61" lengthAdjust="spacingAndGlyphs">KeplerAgent</text>
<rect x="643.4" y="225.5" width="144.85" height="144.00" fill="none" stroke="#555555" stroke-width="1.1"/>
<path d="M650.00,369.5 v2.9 M683.30,369.5 v2.9 M716.60,369.5 v2.9 M749.90,369.5 v2.9 M783.20,369.5 v2.9 M643.4,362.80 h-2.9 M643.4,339.54 h-2.9 M643.4,316.28 h-2.9 M643.4,293.02 h-2.9 M643.4,269.76 h-2.9 M643.4,246.50 h-2.9" stroke="#555" stroke-width="0.8"/>
<text x="650.00" y="379.50" font-size="7.22" text-anchor="middle" textLength="11.00" lengthAdjust="spacingAndGlyphs">0.0</text>
<text x="683.30" y="379.50" font-size="7.22" text-anchor="middle" textLength="11.00" lengthAdjust="spacingAndGlyphs">0.5</text>
<text x="716.60" y="379.50" font-size="7.22" text-anchor="middle" textLength="11.00" lengthAdjust="spacingAndGlyphs">1.0</text>
<text x="749.90" y="379.50" font-size="7.22" text-anchor="middle" textLength="11.00" lengthAdjust="spacingAndGlyphs">1.5</text>
<text x="783.20" y="379.50" font-size="7.22" text-anchor="middle" textLength="11.00" lengthAdjust="spacingAndGlyphs">2.0</text>
<text x="638.56" y="365.35" font-size="7.22" text-anchor="end" textLength="11.00" lengthAdjust="spacingAndGlyphs">0.0</text>
<text x="638.56" y="342.09" font-size="7.22" text-anchor="end" textLength="11.00" lengthAdjust="spacingAndGlyphs">0.2</text>
<text x="638.56" y="318.83" font-size="7.22" text-anchor="end" textLength="11.00" lengthAdjust="spacingAndGlyphs">0.4</text>
<text x="638.56" y="295.57" font-size="7.22" text-anchor="end" textLength="11.00" lengthAdjust="spacingAndGlyphs">0.6</text>
<text x="638.56" y="272.31" font-size="7.22" text-anchor="end" textLength="11.00" lengthAdjust="spacingAndGlyphs">0.8</text>
<text x="638.56" y="249.05" font-size="7.22" text-anchor="end" textLength="11.00" lengthAdjust="spacingAndGlyphs">1.0</text>
<text x="715.83" y="389.90" font-size="8.8" text-anchor="middle" textLength="20.57" lengthAdjust="spacingAndGlyphs">Time</text>
<text x="622.83" y="297.50" font-size="8.8" text-anchor="middle" textLength="54.16" lengthAdjust="spacingAndGlyphs" transform="rotate(-90 622.83 297.50)">Relative MSE</text>
<text x="715.83" y="221.70" font-size="10.26" text-anchor="middle" font-weight="bold" textLength="38.83" lengthAdjust="spacingAndGlyphs">growth</text>
<text x="643.40" y="223.60" font-size="7.22" textLength="18.85" lengthAdjust="spacingAndGlyphs">1e−6</text>
<clipPath id="c10"><rect x="840.6" y="225.5" width="144.85" height="144.00"/></clipPath>
<path d="M847.50,225.5 V369.5 M881.20,225.5 V369.5 M914.90,225.5 V369.5 M948.60,225.5 V369.5 M982.30,225.5 V369.5 M840.6,362.65 H985.45 M840.6,343.83 H985.45 M840.6,325.01 H985.45 M840.6,306.19 H985.45 M840.6,287.37 H985.45 M840.6,268.55 H985.45 M840.6,249.73 H985.45 M840.6,230.91 H985.45" stroke="#ededed" stroke-width="1.0" fill="none"/>
<g clip-path="url(#c10)" fill="none" stroke-width="1.75" stroke-linejoin="round" stroke-linecap="butt">
<path d="M847.40,362.28 L848.10,362.31 L848.80,362.33 L849.50,362.34 L850.20,362.34 L850.89,362.34 L851.59,362.33 L852.29,362.31 L852.99,362.28 L853.69,362.25 L854.39,362.21 L855.09,362.16 L855.79,362.11 L856.49,362.04 L857.19,361.97 L857.88,361.89 L858.58,361.81 L859.28,361.71 L859.98,361.61 L860.68,361.50 L861.38,361.38 L862.08,361.26 L862.78,361.13 L863.48,360.99 L864.17,360.84 L864.87,360.68 L865.57,360.52 L866.27,360.34 L866.97,360.16 L867.67,359.98 L868.37,359.78 L869.07,359.58 L869.77,359.37 L870.47,359.15 L871.16,358.92 L871.86,358.68 L872.56,358.44 L873.26,358.19 L873.96,357.93 L874.66,357.66 L875.36,357.38 L876.06,357.10 L876.76,356.80 L877.45,356.50 L878.15,356.19 L878.85,355.87 L879.55,355.55 L880.25,355.21 L880.95,354.87 L881.65,354.52 L882.35,354.16 L883.05,353.79 L883.74,353.42 L884.44,353.03 L885.14,352.64 L885.84,352.23 L886.54,351.82 L887.24,351.40 L887.94,350.98 L888.64,350.54 L889.34,350.10 L890.04,349.64 L890.73,349.18 L891.43,348.71 L892.13,348.23 L892.83,347.74 L893.53,347.24 L894.23,346.74 L894.93,346.22 L895.63,345.70 L896.33,345.16 L897.02,344.62 L897.72,344.07 L898.42,343.51 L899.12,342.94 L899.82,342.37 L900.52,341.78 L901.22,341.19 L901.92,340.58 L902.62,339.97 L903.32,339.35 L904.01,338.71 L904.71,338.07 L905.41,337.42 L906.11,336.76 L906.81,336.09 L907.51,335.42 L908.21,334.73 L908.91,334.03 L909.61,333.33 L910.30,332.61 L911.00,331.89 L911.70,331.16 L912.40,330.41 L913.10,329.66 L913.80,328.90 L914.50,328.13 L915.20,327.35 L915.90,326.56 L916.60,325.76 L917.29,324.95 L917.99,324.13 L918.69,323.31 L919.39,322.47 L920.09,321.63 L920.79,320.78 L921.49,319.92 L922.19,319.06 L922.89,318.19 L923.58,317.30 L924.28,316.42 L924.98,315.52 L925.68,314.62 L926.38,313.71 L927.08,312.80 L927.78,311.87 L928.48,310.95 L929.18,310.01 L929.88,309.07 L930.57,308.13 L931.27,307.18 L931.97,306.22 L932.67,305.26 L933.37,304.30 L934.07,303.33 L934.77,302.35 L935.47,301.37 L936.17,300.39 L936.86,299.40 L937.56,298.41 L938.26,297.41 L938.96,296.41 L939.66,295.41 L940.36,294.40 L941.06,293.40 L941.76,292.38 L942.46,291.37 L943.16,290.35 L943.85,289.33 L944.55,288.31 L945.25,287.29 L945.95,286.26 L946.65,285.24 L947.35,284.21 L948.05,283.18 L948.75,282.15 L949.45,281.11 L950.14,280.08 L950.84,279.03 L951.54,277.99 L952.24,276.93 L952.94,275.87 L953.64,274.81 L954.34,273.73 L955.04,272.65 L955.74,271.55 L956.43,270.45 L957.13,269.34 L957.83,268.21 L958.53,267.07 L959.23,265.92 L959.93,264.76 L960.63,263.59 L961.33,262.40 L962.03,261.21 L962.73,260.02 L963.42,258.81 L964.12,257.60 L964.82,256.38 L965.52,255.15 L966.22,253.93 L966.92,252.70 L967.62,251.46 L968.32,250.23 L969.02,249.00 L969.71,247.76 L970.41,246.53 L971.11,245.31 L971.81,244.09 L972.51,242.89 L973.21,241.69 L973.91,240.50 L974.61,239.32 L975.31,238.16 L976.01,237.02 L976.70,235.89 L977.40,234.78 L978.10,233.69 L978.80,232.62 L979.50,231.58" stroke="#6699c7"/>
<path d="M847.50,362.70 L979.70,362.70" stroke="#86bea1"/>
</g>
<rect x="844.00" y="229.10" width="67.58" height="32.5" rx="1.4" fill="#fff" fill-opacity="0.8" stroke="#d9d9d9" stroke-width="0.8"/>
<path d="M846.10,234.60 h15.0" stroke="#6699c7" stroke-width="1.75"/>
<text x="866.40" y="237.00" font-size="7.33" textLength="17.02" lengthAdjust="spacingAndGlyphs">PySR</text>
<path d="M846.10,244.80 h15.0" stroke="#e9a880" stroke-width="1.75"/>
<text x="866.40" y="247.20" font-size="7.33" textLength="24.73" lengthAdjust="spacingAndGlyphs">LLM-SR</text>
<path d="M846.10,255.00 h15.0" stroke="#86bea1" stroke-width="1.75"/>
<text x="866.40" y="257.40" font-size="7.33" textLength="41.61" lengthAdjust="spacingAndGlyphs">KeplerAgent</text>
<rect x="840.6" y="225.5" width="144.85" height="144.00" fill="none" stroke="#555555" stroke-width="1.1"/>
<path d="M847.50,369.5 v2.9 M881.20,369.5 v2.9 M914.90,369.5 v2.9 M948.60,369.5 v2.9 M982.30,369.5 v2.9 M840.6,362.65 h-2.9 M840.6,343.83 h-2.9 M840.6,325.01 h-2.9 M840.6,306.19 h-2.9 M840.6,287.37 h-2.9 M840.6,268.55 h-2.9 M840.6,249.73 h-2.9 M840.6,230.91 h-2.9" stroke="#555" stroke-width="0.8"/>
<text x="847.50" y="379.50" font-size="7.22" text-anchor="middle" textLength="11.00" lengthAdjust="spacingAndGlyphs">0.0</text>
<text x="881.20" y="379.50" font-size="7.22" text-anchor="middle" textLength="11.00" lengthAdjust="spacingAndGlyphs">0.5</text>
<text x="914.90" y="379.50" font-size="7.22" text-anchor="middle" textLength="11.00" lengthAdjust="spacingAndGlyphs">1.0</text>
<text x="948.60" y="379.50" font-size="7.22" text-anchor="middle" textLength="11.00" lengthAdjust="spacingAndGlyphs">1.5</text>
<text x="982.30" y="379.50" font-size="7.22" text-anchor="middle" textLength="11.00" lengthAdjust="spacingAndGlyphs">2.0</text>
<text x="835.76" y="365.20" font-size="7.22" text-anchor="end" textLength="4.40" lengthAdjust="spacingAndGlyphs">0</text>
<text x="835.76" y="346.38" font-size="7.22" text-anchor="end" textLength="4.40" lengthAdjust="spacingAndGlyphs">1</text>
<text x="835.76" y="327.56" font-size="7.22" text-anchor="end" textLength="4.40" lengthAdjust="spacingAndGlyphs">2</text>
<text x="835.76" y="308.74" font-size="7.22" text-anchor="end" textLength="4.40" lengthAdjust="spacingAndGlyphs">3</text>
<text x="835.76" y="289.92" font-size="7.22" text-anchor="end" textLength="4.40" lengthAdjust="spacingAndGlyphs">4</text>
<text x="835.76" y="271.10" font-size="7.22" text-anchor="end" textLength="4.40" lengthAdjust="spacingAndGlyphs">5</text>
<text x="835.76" y="252.28" font-size="7.22" text-anchor="end" textLength="4.40" lengthAdjust="spacingAndGlyphs">6</text>
<text x="835.76" y="233.46" font-size="7.22" text-anchor="end" textLength="4.40" lengthAdjust="spacingAndGlyphs">7</text>
<text x="913.03" y="389.90" font-size="8.8" text-anchor="middle" textLength="20.57" lengthAdjust="spacingAndGlyphs">Time</text>
<text x="826.63" y="297.50" font-size="8.8" text-anchor="middle" textLength="54.16" lengthAdjust="spacingAndGlyphs" transform="rotate(-90 826.63 297.50)">Relative MSE</text>
<text x="913.03" y="221.70" font-size="10.26" text-anchor="middle" font-weight="bold" textLength="15.50" lengthAdjust="spacingAndGlyphs">RD</text>
</svg></body></html>
